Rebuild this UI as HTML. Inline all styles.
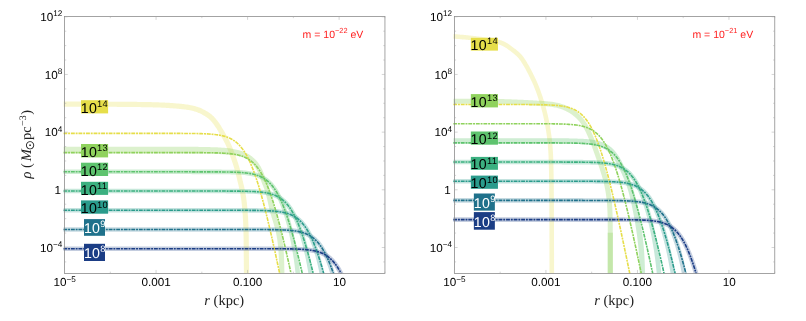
<!DOCTYPE html>
<html><head><meta charset="utf-8"><title>plot</title>
<style>
html,body{margin:0;padding:0;background:#fff;}
body{width:806px;height:321px;overflow:hidden;}
svg{display:block;will-change:transform;text-rendering:geometricPrecision;}
text{font-family:"Liberation Sans",sans-serif;}
.tl{font-size:11.7px;fill:#000;}
.ml{font-size:10.5px;fill:#ff2020;}
.bl{font-size:14.2px;letter-spacing:0.3px;}
.ax{font-family:"Liberation Serif",serif;font-size:14.5px;fill:#222;}
</style></head><body>
<svg width="806" height="321" viewBox="0 0 806 321">
<rect width="806" height="321" fill="#fff"/>
<clipPath id="c0"><rect x="63.35" y="16.45" width="321.60" height="256.90"/></clipPath>
<g clip-path="url(#c0)" fill="none">
<path d="M63.40,104.20 L64.60,104.20 L65.80,104.20 L67.00,104.20 L68.20,104.20 L69.40,104.19 L70.60,104.19 L71.80,104.19 L73.00,104.19 L74.20,104.19 L75.40,104.19 L76.60,104.19 L77.80,104.19 L79.00,104.19 L80.20,104.19 L81.40,104.19 L82.60,104.19 L83.80,104.19 L85.00,104.19 L86.20,104.19 L87.40,104.19 L88.60,104.19 L89.80,104.19 L91.00,104.19 L92.20,104.19 L93.40,104.19 L94.60,104.19 L95.80,104.20 L97.00,104.20 L98.20,104.20 L99.40,104.20 L100.60,104.21 L101.80,104.21 L103.00,104.21 L104.20,104.22 L105.40,104.22 L106.60,104.23 L107.80,104.23 L109.00,104.24 L110.20,104.24 L111.40,104.25 L112.60,104.25 L113.80,104.26 L115.00,104.27 L116.20,104.27 L117.40,104.28 L118.60,104.29 L119.80,104.30 L121.00,104.31 L122.20,104.32 L123.40,104.33 L124.60,104.34 L125.80,104.35 L127.00,104.36 L128.20,104.37 L129.40,104.38 L130.60,104.40 L131.80,104.41 L133.00,104.42 L134.20,104.44 L135.40,104.45 L136.60,104.47 L137.80,104.49 L139.00,104.50 L140.20,104.52 L141.40,104.54 L142.60,104.56 L143.80,104.58 L145.00,104.60 L146.20,104.62 L147.40,104.64 L148.60,104.67 L149.80,104.69 L151.00,104.72 L152.20,104.75 L153.40,104.78 L154.60,104.81 L155.79,104.85 L156.99,104.89 L158.19,104.93 L159.39,104.98 L160.59,105.02 L161.79,105.08 L162.99,105.13 L164.19,105.19 L165.39,105.25 L166.59,105.32 L167.78,105.39 L168.98,105.46 L170.18,105.54 L171.38,105.62 L172.57,105.71 L173.77,105.79 L174.96,105.88 L176.16,105.98 L177.35,106.08 L178.55,106.19 L179.74,106.30 L180.94,106.42 L182.13,106.55 L183.32,106.69 L184.52,106.84 L185.71,106.99 L186.91,107.16 L188.10,107.35 L189.29,107.55 L190.47,107.76 L191.65,108.00 L192.82,108.27 L193.99,108.56 L195.14,108.87 L196.29,109.22 L197.42,109.61 L198.55,110.03 L199.66,110.48 L200.76,110.97 L201.84,111.48 L202.92,112.02 L203.98,112.59 L205.03,113.18 L206.06,113.80 L207.08,114.44 L208.07,115.12 L209.04,115.83 L209.97,116.58 L210.88,117.36 L211.75,118.19 L212.59,119.05 L213.41,119.93 L214.19,120.85 L214.95,121.78 L215.68,122.74 L216.38,123.71 L217.07,124.70 L217.73,125.70 L218.38,126.71 L219.02,127.72 L219.64,128.75 L220.26,129.78 L220.87,130.81 L221.48,131.85 L222.09,132.88 L222.70,133.92 L223.30,134.96 L223.90,136.00 L224.49,137.05 L225.07,138.10 L225.64,139.15 L226.20,140.21 L226.75,141.28 L227.28,142.36 L227.80,143.44 L228.30,144.53 L228.79,145.62 L229.26,146.72 L229.73,147.83 L230.18,148.94 L230.63,150.05 L231.06,151.17 L231.49,152.30 L231.92,153.42 L232.33,154.55 L232.75,155.68 L233.16,156.81 L233.56,157.94 L233.96,159.07 L234.35,160.21 L234.74,161.34 L235.12,162.48 L235.49,163.62 L235.86,164.77 L236.21,165.91 L236.56,167.06 L236.90,168.21 L237.22,169.36 L237.54,170.52 L237.85,171.68 L238.14,172.84 L238.43,174.01 L238.72,175.17 L239.00,176.34 L239.28,177.51 L239.55,178.68 L239.83,179.84 L240.10,181.01 L240.38,182.18 L240.66,183.35 L240.94,184.51 L241.22,185.68 L241.49,186.85 L241.76,188.02 L242.02,189.19 L242.27,190.37 L242.51,191.54 L242.73,192.72 L242.95,193.90 L243.15,195.08 L243.34,196.27 L243.52,197.45 L243.69,198.64 L243.85,199.83 L244.01,201.02 L244.15,202.21 L244.29,203.41 L244.41,204.60 L244.54,205.80 L244.65,206.99 L244.76,208.19 L244.86,209.39 L244.96,210.59 L245.05,211.78 L245.14,212.98 L245.23,214.18 L245.31,215.38 L245.39,216.58 L245.46,217.77 L245.53,218.97 L245.60,220.17 L245.66,221.37 L245.72,222.57 L245.77,223.77 L245.82,224.96 L245.87,226.16 L245.92,227.36 L245.96,228.56 L245.99,229.76 L246.03,230.96 L246.06,232.16 L246.08,233.36 L246.11,234.56 L246.13,235.76 L246.15,236.96 L246.17,238.16 L246.18,239.36 L246.20,240.56 L246.21,241.76 L246.22,242.96 L246.23,244.16 L246.24,245.36 L246.25,246.56 L246.26,247.76 L246.27,248.96 L246.28,250.16 L246.29,251.36 L246.30,252.56 L246.31,253.76 L246.33,254.96 L246.34,256.16 L246.35,257.36 L246.37,258.56 L246.38,259.76 L246.40,260.96 L246.41,262.16 L246.42,263.36 L246.44,264.56 L246.45,265.76 L246.46,266.96 L246.47,268.16 L246.48,269.36 L246.49,270.56 L246.49,271.76 L246.50,272.96 L246.50,274.16 L246.50,275.36 L246.50,276.56 L246.50,277.76 L246.50,278.96 L246.50,280.00" stroke="#e6de4a" stroke-opacity="0.28" stroke-width="5.2" stroke-linejoin="round"/>
<path d="M63.40,153.35 L64.60,153.35 L65.80,153.35 L67.00,153.35 L68.20,153.35 L69.39,153.36 L70.59,153.36 L71.79,153.36 L72.99,153.36 L74.19,153.36 L75.39,153.36 L76.59,153.36 L77.79,153.36 L78.99,153.36 L80.19,153.37 L81.39,153.37 L82.59,153.37 L83.79,153.37 L84.99,153.37 L86.19,153.37 L87.39,153.37 L88.59,153.37 L89.79,153.37 L90.99,153.37 L92.19,153.37 L93.39,153.37 L94.59,153.37 L95.79,153.37 L96.99,153.37 L98.19,153.37 L99.39,153.37 L100.59,153.37 L101.79,153.37 L102.99,153.37 L104.19,153.37 L105.40,153.37 L106.60,153.37 L107.80,153.37 L109.00,153.37 L110.20,153.36 L111.40,153.36 L112.60,153.36 L113.80,153.36 L115.00,153.36 L116.20,153.36 L117.40,153.35 L118.61,153.35 L119.81,153.35 L121.01,153.35 L122.21,153.35 L123.41,153.34 L124.61,153.34 L125.81,153.34 L127.01,153.33 L128.22,153.33 L129.42,153.33 L130.62,153.32 L131.82,153.32 L133.02,153.32 L134.22,153.31 L135.42,153.31 L136.62,153.31 L137.83,153.31 L139.03,153.30 L140.23,153.30 L141.43,153.30 L142.63,153.29 L143.83,153.29 L145.03,153.29 L146.23,153.28 L147.43,153.28 L148.63,153.28 L149.83,153.28 L151.04,153.28 L152.24,153.27 L153.44,153.27 L154.64,153.27 L155.84,153.27 L157.04,153.27 L158.24,153.27 L159.44,153.27 L160.64,153.27 L161.84,153.27 L163.04,153.27 L164.24,153.27 L165.44,153.27 L166.63,153.27 L167.83,153.27 L169.03,153.28 L170.23,153.28 L171.43,153.28 L172.63,153.28 L173.83,153.29 L175.03,153.29 L176.22,153.30 L177.42,153.30 L178.62,153.31 L179.82,153.31 L181.02,153.32 L182.21,153.33 L183.41,153.33 L184.61,153.34 L185.81,153.35 L187.00,153.36 L188.20,153.37 L189.39,153.38 L190.59,153.39 L191.79,153.40 L192.98,153.42 L194.18,153.43 L195.37,153.44 L196.57,153.46 L197.76,153.47 L198.96,153.49 L200.15,153.50 L201.35,153.52 L202.54,153.54 L203.73,153.56 L204.92,153.58 L206.11,153.60 L207.30,153.63 L208.49,153.66 L209.68,153.69 L210.86,153.72 L212.05,153.76 L213.23,153.80 L214.42,153.85 L215.60,153.90 L216.79,153.96 L217.97,154.02 L219.15,154.09 L220.33,154.16 L221.52,154.24 L222.70,154.33 L223.88,154.42 L225.06,154.52 L226.24,154.63 L227.42,154.74 L228.61,154.83 L229.79,154.91 L230.98,155.01 L232.15,155.11 L233.31,155.23 L234.47,155.37 L235.61,155.53 L236.74,155.70 L237.85,155.91 L238.95,156.14 L240.03,156.40 L241.09,156.70 L242.13,157.03 L243.16,157.40 L244.16,157.81 L245.14,158.28 L246.10,158.82 L247.03,159.39 L247.93,160.01 L248.82,160.67 L249.67,161.36 L250.50,162.09 L251.30,162.85 L252.07,163.64 L252.80,164.46 L253.51,165.32 L254.19,166.20 L254.83,167.10 L255.44,168.03 L256.02,168.99 L256.56,169.96 L257.08,170.95 L257.56,171.96 L258.03,173.00 L258.47,174.06 L258.90,175.13 L259.32,176.23 L259.74,177.34 L260.15,178.46 L260.57,179.59 L261.00,180.73 L261.43,181.87 L261.88,183.01 L262.32,184.13 L262.76,185.24 L263.19,186.35 L263.62,187.45 L264.03,188.55 L264.43,189.64 L264.80,190.74 L265.16,191.83 L265.50,192.93 L265.82,194.05 L266.13,195.17 L266.43,196.30 L266.72,197.44 L266.99,198.59 L267.26,199.74 L267.53,200.90 L267.79,202.06 L268.05,203.23 L268.31,204.41 L268.57,205.58 L268.84,206.77 L269.11,207.95 L269.39,209.14 L269.68,210.32 L269.98,211.51 L270.29,212.70 L270.62,213.89 L270.95,215.07 L271.30,216.24 L271.66,217.40 L272.02,218.56 L272.38,219.71 L272.74,220.85 L273.09,221.99 L273.45,223.13 L273.79,224.26 L274.12,225.39 L274.44,226.51 L274.75,227.64 L275.05,228.78 L275.33,229.91 L275.60,231.05 L275.85,232.20 L276.10,233.34 L276.33,234.49 L276.55,235.65 L276.76,236.80 L276.95,237.96 L277.14,239.12 L277.31,240.29 L277.48,241.45 L277.63,242.62 L277.77,243.79 L277.90,244.96 L278.03,246.13 L278.14,247.31 L278.25,248.48 L278.35,249.66 L278.44,250.84 L278.52,252.02 L278.59,253.21 L278.66,254.39 L278.73,255.58 L278.78,256.76 L278.84,257.95 L278.88,259.14 L278.93,260.33 L278.96,261.52 L279.00,262.71 L279.03,263.91 L279.06,265.10 L279.08,266.29 L279.11,267.49 L279.13,268.68 L279.15,269.88 L279.17,271.08 L279.18,272.28 L279.20,273.48 L279.22,274.68 L279.24,275.88 L279.26,277.08 L279.27,278.28 L279.29,279.48 L279.30,280.04 L284.50,279.96 L284.49,279.40 L284.47,278.20 L284.46,277.00 L284.44,275.80 L284.42,274.60 L284.40,273.40 L284.38,272.20 L284.37,271.00 L284.35,269.80 L284.33,268.60 L284.31,267.39 L284.28,266.19 L284.26,264.98 L284.23,263.78 L284.20,262.57 L284.16,261.36 L284.12,260.15 L284.08,258.94 L284.03,257.74 L283.98,256.53 L283.92,255.31 L283.86,254.10 L283.78,252.89 L283.71,251.68 L283.62,250.46 L283.53,249.25 L283.43,248.04 L283.32,246.82 L283.20,245.61 L283.07,244.39 L282.94,243.18 L282.79,241.97 L282.63,240.75 L282.46,239.54 L282.28,238.33 L282.09,237.12 L281.88,235.91 L281.66,234.70 L281.43,233.49 L281.19,232.29 L280.93,231.09 L280.67,229.89 L280.38,228.69 L280.09,227.49 L279.78,226.30 L279.45,225.12 L279.12,223.94 L278.77,222.77 L278.42,221.60 L278.06,220.44 L277.70,219.29 L277.34,218.15 L276.98,217.01 L276.63,215.87 L276.28,214.74 L275.94,213.61 L275.62,212.48 L275.31,211.35 L275.01,210.22 L274.72,209.08 L274.45,207.93 L274.18,206.78 L273.91,205.62 L273.65,204.45 L273.39,203.28 L273.13,202.11 L272.87,200.93 L272.60,199.75 L272.33,198.56 L272.05,197.38 L271.76,196.19 L271.47,195.01 L271.15,193.82 L270.83,192.63 L270.48,191.45 L270.12,190.26 L269.73,189.08 L269.33,187.91 L268.91,186.75 L268.48,185.60 L268.04,184.47 L267.60,183.34 L267.16,182.22 L266.72,181.11 L266.28,180.00 L265.86,178.89 L265.45,177.78 L265.03,176.66 L264.61,175.52 L264.18,174.38 L263.74,173.23 L263.28,172.08 L262.80,170.93 L262.28,169.78 L261.73,168.63 L261.14,167.49 L260.51,166.36 L259.83,165.26 L259.12,164.17 L258.37,163.11 L257.58,162.08 L256.74,161.07 L255.87,160.10 L254.96,159.16 L254.01,158.25 L253.02,157.38 L252.00,156.56 L250.95,155.77 L249.86,155.03 L248.74,154.34 L247.60,153.70 L246.44,153.08 L245.27,152.50 L244.08,151.97 L242.87,151.48 L241.66,151.04 L240.43,150.65 L239.20,150.29 L237.96,149.96 L236.72,149.66 L235.48,149.40 L234.23,149.15 L233.00,148.93 L231.76,148.72 L230.53,148.52 L229.31,148.34 L228.09,148.18 L226.86,148.06 L225.64,147.94 L224.42,147.84 L223.20,147.74 L221.98,147.66 L220.76,147.57 L219.54,147.50 L218.33,147.43 L217.12,147.37 L215.90,147.31 L214.69,147.26 L213.48,147.21 L212.27,147.16 L211.07,147.13 L209.86,147.09 L208.66,147.06 L207.45,147.03 L206.25,147.00 L205.05,146.98 L203.84,146.96 L202.64,146.94 L201.44,146.92 L200.25,146.90 L199.05,146.89 L197.85,146.87 L196.65,146.86 L195.45,146.84 L194.25,146.83 L193.05,146.82 L191.85,146.80 L190.65,146.79 L189.45,146.78 L188.25,146.77 L187.05,146.76 L185.85,146.75 L184.65,146.74 L183.45,146.73 L182.25,146.73 L181.05,146.72 L179.85,146.71 L178.65,146.71 L177.45,146.70 L176.25,146.70 L175.05,146.69 L173.85,146.69 L172.65,146.68 L171.45,146.68 L170.25,146.68 L169.05,146.68 L167.84,146.67 L166.64,146.67 L165.44,146.67 L164.24,146.67 L163.04,146.67 L161.84,146.67 L160.64,146.67 L159.44,146.67 L158.23,146.67 L157.03,146.67 L155.83,146.67 L154.63,146.67 L153.43,146.67 L152.23,146.67 L151.02,146.68 L149.82,146.68 L148.62,146.68 L147.42,146.68 L146.22,146.68 L145.02,146.69 L143.82,146.69 L142.61,146.69 L141.41,146.70 L140.21,146.70 L139.01,146.70 L137.81,146.71 L136.61,146.71 L135.41,146.71 L134.20,146.72 L133.00,146.72 L131.80,146.72 L130.60,146.72 L129.40,146.73 L128.20,146.73 L127.00,146.73 L125.80,146.74 L124.60,146.74 L123.40,146.74 L122.19,146.75 L120.99,146.75 L119.79,146.75 L118.59,146.75 L117.39,146.75 L116.19,146.76 L114.99,146.76 L113.79,146.76 L112.59,146.76 L111.39,146.76 L110.19,146.76 L108.99,146.77 L107.79,146.77 L106.59,146.77 L105.39,146.77 L104.19,146.77 L102.99,146.77 L101.79,146.77 L100.59,146.77 L99.39,146.77 L98.19,146.77 L96.99,146.77 L95.79,146.77 L94.59,146.77 L93.39,146.77 L92.19,146.77 L90.99,146.77 L89.79,146.77 L88.59,146.77 L87.39,146.77 L86.19,146.77 L85.00,146.77 L83.80,146.77 L82.60,146.77 L81.40,146.77 L80.20,146.77 L79.00,146.76 L77.80,146.76 L76.60,146.76 L75.40,146.76 L74.20,146.76 L73.00,146.76 L71.80,146.76 L70.60,146.76 L69.40,146.76 L68.20,146.75 L67.00,146.75 L65.80,146.75 L64.60,146.75 L63.40,146.75Z" fill="#8fd25d" fill-opacity="0.31" stroke="none"/>
<path d="M63.35,171.82 L64.85,171.82 L66.35,171.82 L67.85,171.82 L69.35,171.82 L70.85,171.82 L72.35,171.82 L73.85,171.82 L75.35,171.82 L76.85,171.82 L78.35,171.82 L79.85,171.82 L81.35,171.82 L82.85,171.82 L84.35,171.82 L85.85,171.82 L87.35,171.82 L88.85,171.82 L90.35,171.82 L91.85,171.82 L93.35,171.82 L94.85,171.82 L96.35,171.82 L97.85,171.82 L99.35,171.82 L100.85,171.82 L102.35,171.82 L103.85,171.82 L105.35,171.82 L106.85,171.82 L108.35,171.82 L109.85,171.82 L111.35,171.82 L112.85,171.82 L114.35,171.82 L115.85,171.82 L117.35,171.82 L118.85,171.82 L120.35,171.82 L121.85,171.82 L123.35,171.82 L124.85,171.82 L126.35,171.82 L127.85,171.82 L129.35,171.82 L130.85,171.82 L132.35,171.82 L133.85,171.82 L135.35,171.82 L136.85,171.82 L138.35,171.82 L139.85,171.82 L141.35,171.82 L142.85,171.82 L144.35,171.82 L145.85,171.82 L147.35,171.82 L148.85,171.82 L150.35,171.82 L151.85,171.82 L153.35,171.82 L154.85,171.82 L156.35,171.82 L157.85,171.82 L159.35,171.82 L160.85,171.82 L162.35,171.82 L163.85,171.82 L165.35,171.82 L166.85,171.82 L168.35,171.82 L169.85,171.82 L171.35,171.82 L172.85,171.82 L174.35,171.82 L175.85,171.82 L177.35,171.82 L178.85,171.82 L180.35,171.82 L181.85,171.82 L183.35,171.82 L184.85,171.82 L186.35,171.82 L187.85,171.82 L189.35,171.82 L190.85,171.82 L192.35,171.83 L193.85,171.83 L195.35,171.83 L196.85,171.83 L198.35,171.83 L199.85,171.83 L201.35,171.83 L202.85,171.83 L204.35,171.84 L205.85,171.84 L207.35,171.84 L208.85,171.85 L210.35,171.85 L211.85,171.86 L213.35,171.86 L214.85,171.87 L216.35,171.88 L217.85,171.89 L219.35,171.90 L220.85,171.91 L222.35,171.93 L223.85,171.94 L225.35,171.96 L226.85,171.99 L228.35,172.01 L229.85,172.05 L231.35,172.08 L232.85,172.13 L234.35,172.17 L235.85,172.23 L237.35,172.30 L238.85,172.38 L240.35,172.47 L241.85,172.57 L243.35,172.69 L244.85,172.83 L246.35,173.00 L247.85,173.19 L249.35,173.41 L250.85,173.66 L252.35,173.95 L253.85,174.29 L255.35,174.68 L256.85,175.14 L258.35,175.66 L259.85,176.25 L261.35,176.94 L262.85,177.73 L264.35,178.63 L265.85,179.65 L267.35,180.82 L268.85,182.15 L270.34,183.65 L271.84,185.33 L273.33,187.23 L274.83,189.34 L276.32,191.70 L277.80,194.30 L279.28,197.17 L280.75,200.31 L282.21,203.73 L283.66,207.44 L285.09,211.43 L286.49,215.70 L287.87,220.25 L289.22,225.07 L290.52,230.15 L291.77,235.47 L292.96,241.02 L294.08,246.79 L295.12,252.76 L296.07,258.90 L296.93,265.22 L297.66,271.68 L298.28,278.28 L298.76,284.99" stroke="#5ec36e" stroke-opacity="0.30" stroke-width="4.6" stroke-linejoin="round"/>
<path d="M63.35,191.04 L64.85,191.04 L66.35,191.04 L67.85,191.04 L69.35,191.04 L70.85,191.04 L72.35,191.04 L73.85,191.04 L75.35,191.04 L76.85,191.04 L78.35,191.04 L79.85,191.04 L81.35,191.04 L82.85,191.04 L84.35,191.04 L85.85,191.04 L87.35,191.04 L88.85,191.04 L90.35,191.04 L91.85,191.04 L93.35,191.04 L94.85,191.04 L96.35,191.04 L97.85,191.04 L99.35,191.04 L100.85,191.04 L102.35,191.04 L103.85,191.04 L105.35,191.04 L106.85,191.04 L108.35,191.04 L109.85,191.04 L111.35,191.04 L112.85,191.04 L114.35,191.04 L115.85,191.04 L117.35,191.04 L118.85,191.04 L120.35,191.04 L121.85,191.04 L123.35,191.04 L124.85,191.04 L126.35,191.04 L127.85,191.04 L129.35,191.04 L130.85,191.04 L132.35,191.04 L133.85,191.04 L135.35,191.04 L136.85,191.04 L138.35,191.04 L139.85,191.04 L141.35,191.04 L142.85,191.04 L144.35,191.04 L145.85,191.04 L147.35,191.04 L148.85,191.04 L150.35,191.04 L151.85,191.04 L153.35,191.04 L154.85,191.04 L156.35,191.04 L157.85,191.04 L159.35,191.04 L160.85,191.04 L162.35,191.04 L163.85,191.04 L165.35,191.04 L166.85,191.04 L168.35,191.04 L169.85,191.04 L171.35,191.04 L172.85,191.04 L174.35,191.04 L175.85,191.04 L177.35,191.04 L178.85,191.04 L180.35,191.04 L181.85,191.04 L183.35,191.04 L184.85,191.04 L186.35,191.04 L187.85,191.04 L189.35,191.04 L190.85,191.04 L192.35,191.04 L193.85,191.04 L195.35,191.04 L196.85,191.04 L198.35,191.04 L199.85,191.04 L201.35,191.04 L202.85,191.04 L204.35,191.04 L205.85,191.04 L207.35,191.04 L208.85,191.05 L210.35,191.05 L211.85,191.05 L213.35,191.05 L214.85,191.05 L216.35,191.05 L217.85,191.05 L219.35,191.06 L220.85,191.06 L222.35,191.06 L223.85,191.07 L225.35,191.07 L226.85,191.08 L228.35,191.08 L229.85,191.09 L231.35,191.10 L232.85,191.10 L234.35,191.11 L235.85,191.13 L237.35,191.14 L238.85,191.16 L240.35,191.18 L241.85,191.20 L243.35,191.22 L244.85,191.25 L246.35,191.29 L247.85,191.33 L249.35,191.38 L250.85,191.43 L252.35,191.50 L253.85,191.57 L255.35,191.66 L256.85,191.76 L258.35,191.87 L259.85,192.01 L261.35,192.16 L262.85,192.34 L264.35,192.55 L265.85,192.79 L267.35,193.07 L268.85,193.39 L270.35,193.77 L271.85,194.20 L273.35,194.69 L274.85,195.27 L276.35,195.92 L277.85,196.67 L279.35,197.53 L280.85,198.52 L282.35,199.64 L283.85,200.91 L285.34,202.35 L286.84,203.97 L288.34,205.79 L289.83,207.83 L291.32,210.10 L292.80,212.62 L294.29,215.40 L295.76,218.45 L297.22,221.78 L298.67,225.39 L300.10,229.29 L301.51,233.47 L302.89,237.92 L304.23,242.65 L305.54,247.65 L306.79,252.89 L307.98,258.37 L309.10,264.06 L310.15,269.97 L311.10,276.05 L311.94,282.31" stroke="#3bb080" stroke-opacity="0.29" stroke-width="4.6" stroke-linejoin="round"/>
<path d="M63.35,210.26 L64.85,210.26 L66.35,210.26 L67.85,210.26 L69.35,210.26 L70.85,210.26 L72.35,210.26 L73.85,210.26 L75.35,210.26 L76.85,210.26 L78.35,210.26 L79.85,210.26 L81.35,210.26 L82.85,210.26 L84.35,210.26 L85.85,210.26 L87.35,210.26 L88.85,210.26 L90.35,210.26 L91.85,210.26 L93.35,210.26 L94.85,210.26 L96.35,210.26 L97.85,210.26 L99.35,210.26 L100.85,210.26 L102.35,210.26 L103.85,210.26 L105.35,210.26 L106.85,210.26 L108.35,210.26 L109.85,210.26 L111.35,210.26 L112.85,210.26 L114.35,210.26 L115.85,210.26 L117.35,210.26 L118.85,210.26 L120.35,210.26 L121.85,210.26 L123.35,210.26 L124.85,210.26 L126.35,210.26 L127.85,210.26 L129.35,210.26 L130.85,210.26 L132.35,210.26 L133.85,210.26 L135.35,210.26 L136.85,210.26 L138.35,210.26 L139.85,210.26 L141.35,210.26 L142.85,210.26 L144.35,210.26 L145.85,210.26 L147.35,210.26 L148.85,210.26 L150.35,210.26 L151.85,210.26 L153.35,210.26 L154.85,210.26 L156.35,210.26 L157.85,210.26 L159.35,210.26 L160.85,210.26 L162.35,210.26 L163.85,210.26 L165.35,210.26 L166.85,210.26 L168.35,210.26 L169.85,210.26 L171.35,210.26 L172.85,210.26 L174.35,210.26 L175.85,210.26 L177.35,210.26 L178.85,210.26 L180.35,210.26 L181.85,210.26 L183.35,210.26 L184.85,210.26 L186.35,210.26 L187.85,210.26 L189.35,210.26 L190.85,210.26 L192.35,210.26 L193.85,210.26 L195.35,210.26 L196.85,210.26 L198.35,210.26 L199.85,210.26 L201.35,210.26 L202.85,210.26 L204.35,210.26 L205.85,210.26 L207.35,210.26 L208.85,210.26 L210.35,210.26 L211.85,210.26 L213.35,210.26 L214.85,210.26 L216.35,210.26 L217.85,210.26 L219.35,210.26 L220.85,210.26 L222.35,210.26 L223.85,210.27 L225.35,210.27 L226.85,210.27 L228.35,210.27 L229.85,210.27 L231.35,210.27 L232.85,210.27 L234.35,210.28 L235.85,210.28 L237.35,210.28 L238.85,210.28 L240.35,210.29 L241.85,210.29 L243.35,210.30 L244.85,210.31 L246.35,210.31 L247.85,210.32 L249.35,210.33 L250.85,210.34 L252.35,210.36 L253.85,210.37 L255.35,210.39 L256.85,210.41 L258.35,210.44 L259.85,210.46 L261.35,210.50 L262.85,210.54 L264.35,210.58 L265.85,210.63 L267.35,210.69 L268.85,210.76 L270.35,210.85 L271.85,210.94 L273.35,211.05 L274.85,211.18 L276.35,211.33 L277.85,211.50 L279.35,211.70 L280.85,211.93 L282.35,212.19 L283.85,212.50 L285.35,212.86 L286.85,213.27 L288.35,213.74 L289.85,214.29 L291.35,214.91 L292.85,215.63 L294.35,216.45 L295.85,217.40 L297.35,218.47 L298.84,219.69 L300.34,221.07 L301.84,222.63 L303.33,224.38 L304.82,226.35 L306.30,228.54 L307.78,230.98 L309.25,233.67 L310.71,236.63 L312.15,239.86 L313.58,243.37 L314.97,247.18 L316.33,251.26 L317.64,255.63 L318.90,260.27 L320.10,265.17 L321.21,270.33 L322.23,275.74 L323.13,281.36" stroke="#2a9b8c" stroke-opacity="0.28" stroke-width="4.6" stroke-linejoin="round"/>
<path d="M63.35,229.48 L64.85,229.48 L66.35,229.48 L67.85,229.48 L69.35,229.48 L70.85,229.48 L72.35,229.48 L73.85,229.48 L75.35,229.48 L76.85,229.48 L78.35,229.48 L79.85,229.48 L81.35,229.48 L82.85,229.48 L84.35,229.48 L85.85,229.48 L87.35,229.48 L88.85,229.48 L90.35,229.48 L91.85,229.48 L93.35,229.48 L94.85,229.48 L96.35,229.48 L97.85,229.48 L99.35,229.48 L100.85,229.48 L102.35,229.48 L103.85,229.48 L105.35,229.48 L106.85,229.48 L108.35,229.48 L109.85,229.48 L111.35,229.48 L112.85,229.48 L114.35,229.48 L115.85,229.48 L117.35,229.48 L118.85,229.48 L120.35,229.48 L121.85,229.48 L123.35,229.48 L124.85,229.48 L126.35,229.48 L127.85,229.48 L129.35,229.48 L130.85,229.48 L132.35,229.48 L133.85,229.48 L135.35,229.48 L136.85,229.48 L138.35,229.48 L139.85,229.48 L141.35,229.48 L142.85,229.48 L144.35,229.48 L145.85,229.48 L147.35,229.48 L148.85,229.48 L150.35,229.48 L151.85,229.48 L153.35,229.48 L154.85,229.48 L156.35,229.48 L157.85,229.48 L159.35,229.48 L160.85,229.48 L162.35,229.48 L163.85,229.48 L165.35,229.48 L166.85,229.48 L168.35,229.48 L169.85,229.48 L171.35,229.48 L172.85,229.48 L174.35,229.48 L175.85,229.48 L177.35,229.48 L178.85,229.48 L180.35,229.48 L181.85,229.48 L183.35,229.48 L184.85,229.48 L186.35,229.48 L187.85,229.48 L189.35,229.48 L190.85,229.48 L192.35,229.48 L193.85,229.48 L195.35,229.48 L196.85,229.48 L198.35,229.48 L199.85,229.48 L201.35,229.48 L202.85,229.48 L204.35,229.48 L205.85,229.48 L207.35,229.48 L208.85,229.48 L210.35,229.48 L211.85,229.48 L213.35,229.48 L214.85,229.48 L216.35,229.48 L217.85,229.48 L219.35,229.48 L220.85,229.48 L222.35,229.48 L223.85,229.48 L225.35,229.48 L226.85,229.48 L228.35,229.48 L229.85,229.48 L231.35,229.48 L232.85,229.48 L234.35,229.48 L235.85,229.48 L237.35,229.48 L238.85,229.49 L240.35,229.49 L241.85,229.49 L243.35,229.49 L244.85,229.49 L246.35,229.49 L247.85,229.49 L249.35,229.49 L250.85,229.50 L252.35,229.50 L253.85,229.50 L255.35,229.51 L256.85,229.51 L258.35,229.52 L259.85,229.52 L261.35,229.53 L262.85,229.54 L264.35,229.55 L265.85,229.56 L267.35,229.57 L268.85,229.59 L270.35,229.60 L271.85,229.62 L273.35,229.65 L274.85,229.67 L276.35,229.71 L277.85,229.74 L279.35,229.79 L280.85,229.83 L282.35,229.89 L283.85,229.96 L285.35,230.04 L286.85,230.13 L288.35,230.23 L289.85,230.35 L291.35,230.49 L292.85,230.66 L294.35,230.85 L295.85,231.07 L297.35,231.32 L298.85,231.61 L300.35,231.95 L301.85,232.34 L303.35,232.80 L304.85,233.32 L306.35,233.91 L307.85,234.60 L309.35,235.39 L310.85,236.29 L312.35,237.31 L313.84,238.48 L315.34,239.81 L316.83,241.31 L318.33,242.99 L319.82,244.89 L321.30,247.00 L322.78,249.36 L324.24,251.96 L325.70,254.83 L327.13,257.97 L328.54,261.39 L329.92,265.10 L331.26,269.09 L332.55,273.36 L333.77,277.91 L334.92,282.73" stroke="#1f718b" stroke-opacity="0.26" stroke-width="4.6" stroke-linejoin="round"/>
<path d="M63.35,248.70 L64.85,248.70 L66.35,248.70 L67.85,248.70 L69.35,248.70 L70.85,248.70 L72.35,248.70 L73.85,248.70 L75.35,248.70 L76.85,248.70 L78.35,248.70 L79.85,248.70 L81.35,248.70 L82.85,248.70 L84.35,248.70 L85.85,248.70 L87.35,248.70 L88.85,248.70 L90.35,248.70 L91.85,248.70 L93.35,248.70 L94.85,248.70 L96.35,248.70 L97.85,248.70 L99.35,248.70 L100.85,248.70 L102.35,248.70 L103.85,248.70 L105.35,248.70 L106.85,248.70 L108.35,248.70 L109.85,248.70 L111.35,248.70 L112.85,248.70 L114.35,248.70 L115.85,248.70 L117.35,248.70 L118.85,248.70 L120.35,248.70 L121.85,248.70 L123.35,248.70 L124.85,248.70 L126.35,248.70 L127.85,248.70 L129.35,248.70 L130.85,248.70 L132.35,248.70 L133.85,248.70 L135.35,248.70 L136.85,248.70 L138.35,248.70 L139.85,248.70 L141.35,248.70 L142.85,248.70 L144.35,248.70 L145.85,248.70 L147.35,248.70 L148.85,248.70 L150.35,248.70 L151.85,248.70 L153.35,248.70 L154.85,248.70 L156.35,248.70 L157.85,248.70 L159.35,248.70 L160.85,248.70 L162.35,248.70 L163.85,248.70 L165.35,248.70 L166.85,248.70 L168.35,248.70 L169.85,248.70 L171.35,248.70 L172.85,248.70 L174.35,248.70 L175.85,248.70 L177.35,248.70 L178.85,248.70 L180.35,248.70 L181.85,248.70 L183.35,248.70 L184.85,248.70 L186.35,248.70 L187.85,248.70 L189.35,248.70 L190.85,248.70 L192.35,248.70 L193.85,248.70 L195.35,248.70 L196.85,248.70 L198.35,248.70 L199.85,248.70 L201.35,248.70 L202.85,248.70 L204.35,248.70 L205.85,248.70 L207.35,248.70 L208.85,248.70 L210.35,248.70 L211.85,248.70 L213.35,248.70 L214.85,248.70 L216.35,248.70 L217.85,248.70 L219.35,248.70 L220.85,248.70 L222.35,248.70 L223.85,248.70 L225.35,248.70 L226.85,248.70 L228.35,248.70 L229.85,248.70 L231.35,248.70 L232.85,248.70 L234.35,248.70 L235.85,248.70 L237.35,248.70 L238.85,248.70 L240.35,248.70 L241.85,248.70 L243.35,248.70 L244.85,248.70 L246.35,248.70 L247.85,248.70 L249.35,248.70 L250.85,248.70 L252.35,248.70 L253.85,248.70 L255.35,248.71 L256.85,248.71 L258.35,248.71 L259.85,248.71 L261.35,248.71 L262.85,248.71 L264.35,248.71 L265.85,248.72 L267.35,248.72 L268.85,248.72 L270.35,248.73 L271.85,248.73 L273.35,248.74 L274.85,248.74 L276.35,248.75 L277.85,248.76 L279.35,248.76 L280.85,248.77 L282.35,248.79 L283.85,248.80 L285.35,248.82 L286.85,248.84 L288.35,248.86 L289.85,248.88 L291.35,248.91 L292.85,248.95 L294.35,248.99 L295.85,249.04 L297.35,249.09 L298.85,249.16 L300.35,249.23 L301.85,249.32 L303.35,249.42 L304.85,249.53 L306.35,249.67 L307.85,249.82 L309.35,250.00 L310.85,250.21 L312.35,250.45 L313.85,250.73 L315.35,251.05 L316.85,251.43 L318.35,251.86 L319.85,252.35 L321.35,252.93 L322.85,253.58 L324.35,254.33 L325.85,255.19 L327.35,256.18 L328.85,257.30 L330.35,258.57 L331.85,260.01 L333.35,261.63 L334.85,263.45 L336.35,265.49 L337.85,267.76 L339.35,270.28 L340.85,273.06 L342.35,276.11 L343.85,279.44 L345.35,283.05" stroke="#1b3d85" stroke-opacity="0.26" stroke-width="4.6" stroke-linejoin="round"/>
<path d="M63.35,133.38 L64.85,133.38 L66.35,133.38 L67.85,133.38 L69.35,133.38 L70.85,133.38 L72.35,133.38 L73.85,133.38 L75.35,133.38 L76.85,133.38 L78.35,133.38 L79.85,133.38 L81.35,133.38 L82.85,133.38 L84.35,133.38 L85.85,133.38 L87.35,133.38 L88.85,133.38 L90.35,133.38 L91.85,133.38 L93.35,133.38 L94.85,133.38 L96.35,133.38 L97.85,133.38 L99.35,133.38 L100.85,133.38 L102.35,133.38 L103.85,133.38 L105.35,133.38 L106.85,133.38 L108.35,133.38 L109.85,133.38 L111.35,133.38 L112.85,133.38 L114.35,133.38 L115.85,133.38 L117.35,133.38 L118.85,133.38 L120.35,133.38 L121.85,133.38 L123.35,133.38 L124.85,133.38 L126.35,133.38 L127.85,133.38 L129.35,133.38 L130.85,133.38 L132.35,133.38 L133.85,133.38 L135.35,133.38 L136.85,133.38 L138.35,133.38 L139.85,133.38 L141.35,133.38 L142.85,133.38 L144.35,133.38 L145.85,133.38 L147.35,133.38 L148.85,133.38 L150.35,133.38 L151.85,133.38 L153.35,133.38 L154.85,133.38 L156.35,133.38 L157.85,133.38 L159.35,133.38 L160.85,133.38 L162.35,133.39 L163.85,133.39 L165.35,133.39 L166.85,133.39 L168.35,133.39 L169.85,133.39 L171.35,133.39 L172.85,133.40 L174.35,133.40 L175.85,133.40 L177.35,133.41 L178.85,133.41 L180.35,133.42 L181.85,133.42 L183.35,133.43 L184.85,133.44 L186.35,133.44 L187.85,133.45 L189.35,133.47 L190.85,133.48 L192.35,133.50 L193.85,133.52 L195.35,133.54 L196.85,133.56 L198.35,133.59 L199.85,133.63 L201.35,133.67 L202.85,133.72 L204.35,133.77 L205.85,133.84 L207.35,133.91 L208.85,134.00 L210.35,134.10 L211.85,134.21 L213.35,134.35 L214.85,134.50 L216.35,134.68 L217.85,134.89 L219.35,135.13 L220.85,135.41 L222.35,135.73 L223.85,136.11 L225.35,136.54 L226.85,137.03 L228.35,137.61 L229.85,138.26 L231.35,139.01 L232.85,139.87 L234.35,140.86 L235.85,141.98 L237.35,143.25 L238.85,144.69 L240.35,146.31 L241.85,148.13 L243.35,150.17 L244.85,152.44 L246.35,154.96 L247.85,157.74 L249.35,160.79 L250.85,164.12 L252.35,167.73 L253.85,171.63 L255.35,175.81 L256.85,180.26 L258.35,184.99 L259.85,189.99 L261.35,195.23 L262.85,200.71 L264.35,206.40 L265.85,212.31 L267.35,218.39 L268.85,224.65 L270.35,231.07 L271.85,237.62 L273.35,244.30 L274.85,251.09 L276.35,257.98 L277.85,264.96 L279.35,272.01 L280.85,279.13 L282.35,286.31" stroke="#e6de4a" stroke-width="1.6" stroke-dasharray="3.9 0.85 1.95 0.85"/>
<path d="M63.35,152.60 L64.85,152.60 L66.35,152.60 L67.85,152.60 L69.35,152.60 L70.85,152.60 L72.35,152.60 L73.85,152.60 L75.35,152.60 L76.85,152.60 L78.35,152.60 L79.85,152.60 L81.35,152.60 L82.85,152.60 L84.35,152.60 L85.85,152.60 L87.35,152.60 L88.85,152.60 L90.35,152.60 L91.85,152.60 L93.35,152.60 L94.85,152.60 L96.35,152.60 L97.85,152.60 L99.35,152.60 L100.85,152.60 L102.35,152.60 L103.85,152.60 L105.35,152.60 L106.85,152.60 L108.35,152.60 L109.85,152.60 L111.35,152.60 L112.85,152.60 L114.35,152.60 L115.85,152.60 L117.35,152.60 L118.85,152.60 L120.35,152.60 L121.85,152.60 L123.35,152.60 L124.85,152.60 L126.35,152.60 L127.85,152.60 L129.35,152.60 L130.85,152.60 L132.35,152.60 L133.85,152.60 L135.35,152.60 L136.85,152.60 L138.35,152.60 L139.85,152.60 L141.35,152.60 L142.85,152.60 L144.35,152.60 L145.85,152.60 L147.35,152.60 L148.85,152.60 L150.35,152.60 L151.85,152.60 L153.35,152.60 L154.85,152.60 L156.35,152.60 L157.85,152.60 L159.35,152.60 L160.85,152.60 L162.35,152.60 L163.85,152.60 L165.35,152.60 L166.85,152.60 L168.35,152.60 L169.85,152.60 L171.35,152.60 L172.85,152.60 L174.35,152.60 L175.85,152.60 L177.35,152.61 L178.85,152.61 L180.35,152.61 L181.85,152.61 L183.35,152.61 L184.85,152.61 L186.35,152.61 L187.85,152.62 L189.35,152.62 L190.85,152.62 L192.35,152.62 L193.85,152.63 L195.35,152.63 L196.85,152.64 L198.35,152.65 L199.85,152.65 L201.35,152.66 L202.85,152.67 L204.35,152.68 L205.85,152.70 L207.35,152.71 L208.85,152.73 L210.35,152.75 L211.85,152.78 L213.35,152.80 L214.85,152.84 L216.35,152.88 L217.85,152.92 L219.35,152.97 L220.85,153.03 L222.35,153.10 L223.85,153.19 L225.35,153.28 L226.85,153.39 L228.35,153.52 L229.85,153.67 L231.35,153.84 L232.85,154.04 L234.35,154.27 L235.85,154.53 L237.35,154.84 L238.85,155.20 L240.35,155.61 L241.85,156.08 L243.35,156.63 L244.85,157.25 L246.35,157.97 L247.85,158.79 L249.35,159.74 L250.85,160.81 L252.35,162.03 L253.85,163.41 L255.35,164.97 L256.85,166.72 L258.35,168.69 L259.85,170.88 L261.35,173.32 L262.85,176.01 L264.35,178.97 L265.85,182.20 L267.35,185.71 L268.85,189.52 L270.35,193.60 L271.85,197.97 L273.35,202.61 L274.85,207.51 L276.35,212.67 L277.85,218.08 L279.35,223.70 L280.85,229.54 L282.35,235.57 L283.85,241.77 L285.35,248.13 L286.85,254.64 L288.35,261.28 L289.85,268.04 L291.35,274.89 L292.85,281.84" stroke="#8fd25d" stroke-width="1.6" stroke-dasharray="3.9 0.85 1.95 0.85"/>
<path d="M63.35,171.82 L64.85,171.82 L66.35,171.82 L67.85,171.82 L69.35,171.82 L70.85,171.82 L72.35,171.82 L73.85,171.82 L75.35,171.82 L76.85,171.82 L78.35,171.82 L79.85,171.82 L81.35,171.82 L82.85,171.82 L84.35,171.82 L85.85,171.82 L87.35,171.82 L88.85,171.82 L90.35,171.82 L91.85,171.82 L93.35,171.82 L94.85,171.82 L96.35,171.82 L97.85,171.82 L99.35,171.82 L100.85,171.82 L102.35,171.82 L103.85,171.82 L105.35,171.82 L106.85,171.82 L108.35,171.82 L109.85,171.82 L111.35,171.82 L112.85,171.82 L114.35,171.82 L115.85,171.82 L117.35,171.82 L118.85,171.82 L120.35,171.82 L121.85,171.82 L123.35,171.82 L124.85,171.82 L126.35,171.82 L127.85,171.82 L129.35,171.82 L130.85,171.82 L132.35,171.82 L133.85,171.82 L135.35,171.82 L136.85,171.82 L138.35,171.82 L139.85,171.82 L141.35,171.82 L142.85,171.82 L144.35,171.82 L145.85,171.82 L147.35,171.82 L148.85,171.82 L150.35,171.82 L151.85,171.82 L153.35,171.82 L154.85,171.82 L156.35,171.82 L157.85,171.82 L159.35,171.82 L160.85,171.82 L162.35,171.82 L163.85,171.82 L165.35,171.82 L166.85,171.82 L168.35,171.82 L169.85,171.82 L171.35,171.82 L172.85,171.82 L174.35,171.82 L175.85,171.82 L177.35,171.82 L178.85,171.82 L180.35,171.82 L181.85,171.82 L183.35,171.82 L184.85,171.82 L186.35,171.82 L187.85,171.82 L189.35,171.82 L190.85,171.82 L192.35,171.83 L193.85,171.83 L195.35,171.83 L196.85,171.83 L198.35,171.83 L199.85,171.83 L201.35,171.83 L202.85,171.83 L204.35,171.84 L205.85,171.84 L207.35,171.84 L208.85,171.85 L210.35,171.85 L211.85,171.86 L213.35,171.86 L214.85,171.87 L216.35,171.88 L217.85,171.89 L219.35,171.90 L220.85,171.91 L222.35,171.93 L223.85,171.94 L225.35,171.96 L226.85,171.99 L228.35,172.01 L229.85,172.05 L231.35,172.08 L232.85,172.13 L234.35,172.17 L235.85,172.23 L237.35,172.30 L238.85,172.38 L240.35,172.47 L241.85,172.57 L243.35,172.69 L244.85,172.83 L246.35,173.00 L247.85,173.19 L249.35,173.41 L250.85,173.66 L252.35,173.95 L253.85,174.29 L255.35,174.68 L256.85,175.14 L258.35,175.66 L259.85,176.25 L261.35,176.94 L262.85,177.73 L264.35,178.63 L265.85,179.65 L267.35,180.82 L268.85,182.15 L270.35,183.65 L271.85,185.33 L273.35,187.23 L274.85,189.34 L276.35,191.70 L277.85,194.30 L279.35,197.17 L280.85,200.31 L282.35,203.73 L283.85,207.44 L285.35,211.43 L286.85,215.70 L288.35,220.25 L289.85,225.07 L291.35,230.15 L292.85,235.47 L294.35,241.02 L295.85,246.79 L297.35,252.76 L298.85,258.90 L300.35,265.22 L301.85,271.68 L303.35,278.28 L304.85,284.99" stroke="#5ec36e" stroke-width="1.6" stroke-dasharray="3.9 0.85 1.95 0.85"/>
<path d="M63.35,191.04 L64.85,191.04 L66.35,191.04 L67.85,191.04 L69.35,191.04 L70.85,191.04 L72.35,191.04 L73.85,191.04 L75.35,191.04 L76.85,191.04 L78.35,191.04 L79.85,191.04 L81.35,191.04 L82.85,191.04 L84.35,191.04 L85.85,191.04 L87.35,191.04 L88.85,191.04 L90.35,191.04 L91.85,191.04 L93.35,191.04 L94.85,191.04 L96.35,191.04 L97.85,191.04 L99.35,191.04 L100.85,191.04 L102.35,191.04 L103.85,191.04 L105.35,191.04 L106.85,191.04 L108.35,191.04 L109.85,191.04 L111.35,191.04 L112.85,191.04 L114.35,191.04 L115.85,191.04 L117.35,191.04 L118.85,191.04 L120.35,191.04 L121.85,191.04 L123.35,191.04 L124.85,191.04 L126.35,191.04 L127.85,191.04 L129.35,191.04 L130.85,191.04 L132.35,191.04 L133.85,191.04 L135.35,191.04 L136.85,191.04 L138.35,191.04 L139.85,191.04 L141.35,191.04 L142.85,191.04 L144.35,191.04 L145.85,191.04 L147.35,191.04 L148.85,191.04 L150.35,191.04 L151.85,191.04 L153.35,191.04 L154.85,191.04 L156.35,191.04 L157.85,191.04 L159.35,191.04 L160.85,191.04 L162.35,191.04 L163.85,191.04 L165.35,191.04 L166.85,191.04 L168.35,191.04 L169.85,191.04 L171.35,191.04 L172.85,191.04 L174.35,191.04 L175.85,191.04 L177.35,191.04 L178.85,191.04 L180.35,191.04 L181.85,191.04 L183.35,191.04 L184.85,191.04 L186.35,191.04 L187.85,191.04 L189.35,191.04 L190.85,191.04 L192.35,191.04 L193.85,191.04 L195.35,191.04 L196.85,191.04 L198.35,191.04 L199.85,191.04 L201.35,191.04 L202.85,191.04 L204.35,191.04 L205.85,191.04 L207.35,191.04 L208.85,191.05 L210.35,191.05 L211.85,191.05 L213.35,191.05 L214.85,191.05 L216.35,191.05 L217.85,191.05 L219.35,191.06 L220.85,191.06 L222.35,191.06 L223.85,191.07 L225.35,191.07 L226.85,191.08 L228.35,191.08 L229.85,191.09 L231.35,191.10 L232.85,191.10 L234.35,191.11 L235.85,191.13 L237.35,191.14 L238.85,191.16 L240.35,191.18 L241.85,191.20 L243.35,191.22 L244.85,191.25 L246.35,191.29 L247.85,191.33 L249.35,191.38 L250.85,191.43 L252.35,191.50 L253.85,191.57 L255.35,191.66 L256.85,191.76 L258.35,191.87 L259.85,192.01 L261.35,192.16 L262.85,192.34 L264.35,192.55 L265.85,192.79 L267.35,193.07 L268.85,193.39 L270.35,193.77 L271.85,194.20 L273.35,194.69 L274.85,195.27 L276.35,195.92 L277.85,196.67 L279.35,197.53 L280.85,198.52 L282.35,199.64 L283.85,200.91 L285.35,202.35 L286.85,203.97 L288.35,205.79 L289.85,207.83 L291.35,210.10 L292.85,212.62 L294.35,215.40 L295.85,218.45 L297.35,221.78 L298.85,225.39 L300.35,229.29 L301.85,233.47 L303.35,237.92 L304.85,242.65 L306.35,247.65 L307.85,252.89 L309.35,258.37 L310.85,264.06 L312.35,269.97 L313.85,276.05 L315.35,282.31" stroke="#3bb080" stroke-width="1.6" stroke-dasharray="3.9 0.85 1.95 0.85"/>
<path d="M63.35,210.26 L64.85,210.26 L66.35,210.26 L67.85,210.26 L69.35,210.26 L70.85,210.26 L72.35,210.26 L73.85,210.26 L75.35,210.26 L76.85,210.26 L78.35,210.26 L79.85,210.26 L81.35,210.26 L82.85,210.26 L84.35,210.26 L85.85,210.26 L87.35,210.26 L88.85,210.26 L90.35,210.26 L91.85,210.26 L93.35,210.26 L94.85,210.26 L96.35,210.26 L97.85,210.26 L99.35,210.26 L100.85,210.26 L102.35,210.26 L103.85,210.26 L105.35,210.26 L106.85,210.26 L108.35,210.26 L109.85,210.26 L111.35,210.26 L112.85,210.26 L114.35,210.26 L115.85,210.26 L117.35,210.26 L118.85,210.26 L120.35,210.26 L121.85,210.26 L123.35,210.26 L124.85,210.26 L126.35,210.26 L127.85,210.26 L129.35,210.26 L130.85,210.26 L132.35,210.26 L133.85,210.26 L135.35,210.26 L136.85,210.26 L138.35,210.26 L139.85,210.26 L141.35,210.26 L142.85,210.26 L144.35,210.26 L145.85,210.26 L147.35,210.26 L148.85,210.26 L150.35,210.26 L151.85,210.26 L153.35,210.26 L154.85,210.26 L156.35,210.26 L157.85,210.26 L159.35,210.26 L160.85,210.26 L162.35,210.26 L163.85,210.26 L165.35,210.26 L166.85,210.26 L168.35,210.26 L169.85,210.26 L171.35,210.26 L172.85,210.26 L174.35,210.26 L175.85,210.26 L177.35,210.26 L178.85,210.26 L180.35,210.26 L181.85,210.26 L183.35,210.26 L184.85,210.26 L186.35,210.26 L187.85,210.26 L189.35,210.26 L190.85,210.26 L192.35,210.26 L193.85,210.26 L195.35,210.26 L196.85,210.26 L198.35,210.26 L199.85,210.26 L201.35,210.26 L202.85,210.26 L204.35,210.26 L205.85,210.26 L207.35,210.26 L208.85,210.26 L210.35,210.26 L211.85,210.26 L213.35,210.26 L214.85,210.26 L216.35,210.26 L217.85,210.26 L219.35,210.26 L220.85,210.26 L222.35,210.26 L223.85,210.27 L225.35,210.27 L226.85,210.27 L228.35,210.27 L229.85,210.27 L231.35,210.27 L232.85,210.27 L234.35,210.28 L235.85,210.28 L237.35,210.28 L238.85,210.28 L240.35,210.29 L241.85,210.29 L243.35,210.30 L244.85,210.31 L246.35,210.31 L247.85,210.32 L249.35,210.33 L250.85,210.34 L252.35,210.36 L253.85,210.37 L255.35,210.39 L256.85,210.41 L258.35,210.44 L259.85,210.46 L261.35,210.50 L262.85,210.54 L264.35,210.58 L265.85,210.63 L267.35,210.69 L268.85,210.76 L270.35,210.85 L271.85,210.94 L273.35,211.05 L274.85,211.18 L276.35,211.33 L277.85,211.50 L279.35,211.70 L280.85,211.93 L282.35,212.19 L283.85,212.50 L285.35,212.86 L286.85,213.27 L288.35,213.74 L289.85,214.29 L291.35,214.91 L292.85,215.63 L294.35,216.45 L295.85,217.40 L297.35,218.47 L298.85,219.69 L300.35,221.07 L301.85,222.63 L303.35,224.38 L304.85,226.35 L306.35,228.54 L307.85,230.98 L309.35,233.67 L310.85,236.63 L312.35,239.86 L313.85,243.37 L315.35,247.18 L316.85,251.26 L318.35,255.63 L319.85,260.27 L321.35,265.17 L322.85,270.33 L324.35,275.74 L325.85,281.36" stroke="#2a9b8c" stroke-width="1.6" stroke-dasharray="3.9 0.85 1.95 0.85"/>
<path d="M63.35,229.48 L64.85,229.48 L66.35,229.48 L67.85,229.48 L69.35,229.48 L70.85,229.48 L72.35,229.48 L73.85,229.48 L75.35,229.48 L76.85,229.48 L78.35,229.48 L79.85,229.48 L81.35,229.48 L82.85,229.48 L84.35,229.48 L85.85,229.48 L87.35,229.48 L88.85,229.48 L90.35,229.48 L91.85,229.48 L93.35,229.48 L94.85,229.48 L96.35,229.48 L97.85,229.48 L99.35,229.48 L100.85,229.48 L102.35,229.48 L103.85,229.48 L105.35,229.48 L106.85,229.48 L108.35,229.48 L109.85,229.48 L111.35,229.48 L112.85,229.48 L114.35,229.48 L115.85,229.48 L117.35,229.48 L118.85,229.48 L120.35,229.48 L121.85,229.48 L123.35,229.48 L124.85,229.48 L126.35,229.48 L127.85,229.48 L129.35,229.48 L130.85,229.48 L132.35,229.48 L133.85,229.48 L135.35,229.48 L136.85,229.48 L138.35,229.48 L139.85,229.48 L141.35,229.48 L142.85,229.48 L144.35,229.48 L145.85,229.48 L147.35,229.48 L148.85,229.48 L150.35,229.48 L151.85,229.48 L153.35,229.48 L154.85,229.48 L156.35,229.48 L157.85,229.48 L159.35,229.48 L160.85,229.48 L162.35,229.48 L163.85,229.48 L165.35,229.48 L166.85,229.48 L168.35,229.48 L169.85,229.48 L171.35,229.48 L172.85,229.48 L174.35,229.48 L175.85,229.48 L177.35,229.48 L178.85,229.48 L180.35,229.48 L181.85,229.48 L183.35,229.48 L184.85,229.48 L186.35,229.48 L187.85,229.48 L189.35,229.48 L190.85,229.48 L192.35,229.48 L193.85,229.48 L195.35,229.48 L196.85,229.48 L198.35,229.48 L199.85,229.48 L201.35,229.48 L202.85,229.48 L204.35,229.48 L205.85,229.48 L207.35,229.48 L208.85,229.48 L210.35,229.48 L211.85,229.48 L213.35,229.48 L214.85,229.48 L216.35,229.48 L217.85,229.48 L219.35,229.48 L220.85,229.48 L222.35,229.48 L223.85,229.48 L225.35,229.48 L226.85,229.48 L228.35,229.48 L229.85,229.48 L231.35,229.48 L232.85,229.48 L234.35,229.48 L235.85,229.48 L237.35,229.48 L238.85,229.49 L240.35,229.49 L241.85,229.49 L243.35,229.49 L244.85,229.49 L246.35,229.49 L247.85,229.49 L249.35,229.49 L250.85,229.50 L252.35,229.50 L253.85,229.50 L255.35,229.51 L256.85,229.51 L258.35,229.52 L259.85,229.52 L261.35,229.53 L262.85,229.54 L264.35,229.55 L265.85,229.56 L267.35,229.57 L268.85,229.59 L270.35,229.60 L271.85,229.62 L273.35,229.65 L274.85,229.67 L276.35,229.71 L277.85,229.74 L279.35,229.79 L280.85,229.83 L282.35,229.89 L283.85,229.96 L285.35,230.04 L286.85,230.13 L288.35,230.23 L289.85,230.35 L291.35,230.49 L292.85,230.66 L294.35,230.85 L295.85,231.07 L297.35,231.32 L298.85,231.61 L300.35,231.95 L301.85,232.34 L303.35,232.80 L304.85,233.32 L306.35,233.91 L307.85,234.60 L309.35,235.39 L310.85,236.29 L312.35,237.31 L313.85,238.48 L315.35,239.81 L316.85,241.31 L318.35,242.99 L319.85,244.89 L321.35,247.00 L322.85,249.36 L324.35,251.96 L325.85,254.83 L327.35,257.97 L328.85,261.39 L330.35,265.10 L331.85,269.09 L333.35,273.36 L334.85,277.91 L336.35,282.73" stroke="#1f718b" stroke-width="1.6" stroke-dasharray="3.9 0.85 1.95 0.85"/>
<path d="M63.35,248.70 L64.85,248.70 L66.35,248.70 L67.85,248.70 L69.35,248.70 L70.85,248.70 L72.35,248.70 L73.85,248.70 L75.35,248.70 L76.85,248.70 L78.35,248.70 L79.85,248.70 L81.35,248.70 L82.85,248.70 L84.35,248.70 L85.85,248.70 L87.35,248.70 L88.85,248.70 L90.35,248.70 L91.85,248.70 L93.35,248.70 L94.85,248.70 L96.35,248.70 L97.85,248.70 L99.35,248.70 L100.85,248.70 L102.35,248.70 L103.85,248.70 L105.35,248.70 L106.85,248.70 L108.35,248.70 L109.85,248.70 L111.35,248.70 L112.85,248.70 L114.35,248.70 L115.85,248.70 L117.35,248.70 L118.85,248.70 L120.35,248.70 L121.85,248.70 L123.35,248.70 L124.85,248.70 L126.35,248.70 L127.85,248.70 L129.35,248.70 L130.85,248.70 L132.35,248.70 L133.85,248.70 L135.35,248.70 L136.85,248.70 L138.35,248.70 L139.85,248.70 L141.35,248.70 L142.85,248.70 L144.35,248.70 L145.85,248.70 L147.35,248.70 L148.85,248.70 L150.35,248.70 L151.85,248.70 L153.35,248.70 L154.85,248.70 L156.35,248.70 L157.85,248.70 L159.35,248.70 L160.85,248.70 L162.35,248.70 L163.85,248.70 L165.35,248.70 L166.85,248.70 L168.35,248.70 L169.85,248.70 L171.35,248.70 L172.85,248.70 L174.35,248.70 L175.85,248.70 L177.35,248.70 L178.85,248.70 L180.35,248.70 L181.85,248.70 L183.35,248.70 L184.85,248.70 L186.35,248.70 L187.85,248.70 L189.35,248.70 L190.85,248.70 L192.35,248.70 L193.85,248.70 L195.35,248.70 L196.85,248.70 L198.35,248.70 L199.85,248.70 L201.35,248.70 L202.85,248.70 L204.35,248.70 L205.85,248.70 L207.35,248.70 L208.85,248.70 L210.35,248.70 L211.85,248.70 L213.35,248.70 L214.85,248.70 L216.35,248.70 L217.85,248.70 L219.35,248.70 L220.85,248.70 L222.35,248.70 L223.85,248.70 L225.35,248.70 L226.85,248.70 L228.35,248.70 L229.85,248.70 L231.35,248.70 L232.85,248.70 L234.35,248.70 L235.85,248.70 L237.35,248.70 L238.85,248.70 L240.35,248.70 L241.85,248.70 L243.35,248.70 L244.85,248.70 L246.35,248.70 L247.85,248.70 L249.35,248.70 L250.85,248.70 L252.35,248.70 L253.85,248.70 L255.35,248.71 L256.85,248.71 L258.35,248.71 L259.85,248.71 L261.35,248.71 L262.85,248.71 L264.35,248.71 L265.85,248.72 L267.35,248.72 L268.85,248.72 L270.35,248.73 L271.85,248.73 L273.35,248.74 L274.85,248.74 L276.35,248.75 L277.85,248.76 L279.35,248.76 L280.85,248.77 L282.35,248.79 L283.85,248.80 L285.35,248.82 L286.85,248.84 L288.35,248.86 L289.85,248.88 L291.35,248.91 L292.85,248.95 L294.35,248.99 L295.85,249.04 L297.35,249.09 L298.85,249.16 L300.35,249.23 L301.85,249.32 L303.35,249.42 L304.85,249.53 L306.35,249.67 L307.85,249.82 L309.35,250.00 L310.85,250.21 L312.35,250.45 L313.85,250.73 L315.35,251.05 L316.85,251.43 L318.35,251.86 L319.85,252.35 L321.35,252.93 L322.85,253.58 L324.35,254.33 L325.85,255.19 L327.35,256.18 L328.85,257.30 L330.35,258.57 L331.85,260.01 L333.35,261.63 L334.85,263.45 L336.35,265.49 L337.85,267.76 L339.35,270.28 L340.85,273.06 L342.35,276.11 L343.85,279.44 L345.35,283.05" stroke="#1b3d85" stroke-width="1.6" stroke-dasharray="3.9 0.85 1.95 0.85"/>
</g>
<rect x="64.55" y="16.45" width="320.40" height="256.90" fill="none" stroke="#7d7d7d" stroke-width="0.7"/>
<path d="M64.55,273.35 v-3.40 M64.55,16.45 v3.40 M110.31,273.35 v-1.70 M110.31,16.45 v1.70 M156.07,273.35 v-3.40 M156.07,16.45 v3.40 M201.83,273.35 v-1.70 M201.83,16.45 v1.70 M247.59,273.35 v-3.40 M247.59,16.45 v3.40 M293.35,273.35 v-1.70 M293.35,16.45 v1.70 M339.11,273.35 v-3.40 M339.11,16.45 v3.40 M384.87,273.35 v-1.70 M384.87,16.45 v1.70 M64.55,16.77 h3.20 M384.95,16.77 h-3.20 M64.55,31.19 h1.70 M384.95,31.19 h-1.70 M64.55,45.61 h1.70 M384.95,45.61 h-1.70 M64.55,60.03 h1.70 M384.95,60.03 h-1.70 M64.55,74.45 h3.20 M384.95,74.45 h-3.20 M64.55,88.87 h1.70 M384.95,88.87 h-1.70 M64.55,103.29 h1.70 M384.95,103.29 h-1.70 M64.55,117.71 h1.70 M384.95,117.71 h-1.70 M64.55,132.13 h3.20 M384.95,132.13 h-3.20 M64.55,146.55 h1.70 M384.95,146.55 h-1.70 M64.55,160.97 h1.70 M384.95,160.97 h-1.70 M64.55,175.39 h1.70 M384.95,175.39 h-1.70 M64.55,189.81 h3.20 M384.95,189.81 h-3.20 M64.55,204.23 h1.70 M384.95,204.23 h-1.70 M64.55,218.65 h1.70 M384.95,218.65 h-1.70 M64.55,233.07 h1.70 M384.95,233.07 h-1.70 M64.55,247.49 h3.20 M384.95,247.49 h-3.20 M64.55,261.91 h1.70 M384.95,261.91 h-1.70" stroke="#a8a8a8" stroke-width="0.5" fill="none"/>
<text x="64.65" y="286.00" text-anchor="middle" class="tl">10<tspan dy="-4.5" font-size="8.2">−5</tspan></text>
<text x="156.07" y="286.00" text-anchor="middle" class="tl">0.001</text>
<text x="247.59" y="286.00" text-anchor="middle" class="tl">0.100</text>
<text x="339.41" y="286.00" text-anchor="middle" class="tl">10</text>
<text x="62.25" y="20.97" text-anchor="end" class="tl">10<tspan dy="-4.5" font-size="8.2">12</tspan></text>
<text x="62.25" y="78.65" text-anchor="end" class="tl">10<tspan dy="-4.5" font-size="8.2">8</tspan></text>
<text x="62.25" y="136.33" text-anchor="end" class="tl">10<tspan dy="-4.5" font-size="8.2">4</tspan></text>
<text x="62.25" y="251.69" text-anchor="end" class="tl">10<tspan dy="-4.5" font-size="8.2">−4</tspan></text>
<text x="60.95" y="194.01" text-anchor="end" class="tl">1</text>
<text x="224.25" y="304.9" text-anchor="middle" class="ax"><tspan font-style="italic">r</tspan> (kpc)</text>
<text x="302.60" y="37.9" class="ml">m = 10<tspan dy="-5.0" font-size="7.4">−22</tspan><tspan dy="5.0"> eV</tspan></text>
<rect x="81.00" y="100.20" width="27.10" height="13.20" fill="#e6de4a"/>
<text x="80.70" y="113.00" class="bl">10<tspan dy="-5.8" font-size="9.3">14</tspan></text>
<rect x="81.00" y="144.00" width="27.10" height="13.40" fill="#8fd25d"/>
<text x="80.70" y="157.00" class="bl">10<tspan dy="-5.8" font-size="9.3">13</tspan></text>
<rect x="81.00" y="162.70" width="27.10" height="13.30" fill="#5ec36e"/>
<text x="80.70" y="175.60" class="bl">10<tspan dy="-5.8" font-size="9.3">12</tspan></text>
<rect x="81.00" y="181.80" width="27.10" height="13.10" fill="#3bb080"/>
<text x="80.70" y="194.50" class="bl">10<tspan dy="-5.8" font-size="9.3">11</tspan></text>
<rect x="81.00" y="200.40" width="27.10" height="13.30" fill="#2a9b8c"/>
<text x="80.70" y="213.30" class="bl">10<tspan dy="-5.8" font-size="9.3">10</tspan></text>
<rect x="84.00" y="219.10" width="21.00" height="16.70" fill="#1f718b"/>
<text x="83.90" y="232.90" class="bl" fill="#fff">10<tspan dy="-5.8" font-size="9.3">9</tspan></text>
<rect x="84.00" y="243.80" width="21.00" height="17.20" fill="#1b3d85"/>
<text x="83.90" y="258.10" class="bl" fill="#fff">10<tspan dy="-5.8" font-size="9.3">8</tspan></text>
<clipPath id="c1"><rect x="453.20" y="16.45" width="321.60" height="256.90"/></clipPath>
<g clip-path="url(#c1)" fill="none">
<path d="M453.30,36.40 L454.50,36.48 L455.69,36.57 L456.89,36.65 L458.09,36.74 L459.29,36.82 L460.48,36.92 L461.68,37.01 L462.87,37.11 L464.07,37.22 L465.26,37.32 L466.46,37.44 L467.65,37.56 L468.85,37.69 L470.04,37.82 L471.23,37.95 L472.42,38.09 L473.62,38.23 L474.81,38.38 L476.00,38.52 L477.19,38.67 L478.38,38.82 L479.56,38.98 L480.75,39.13 L481.94,39.29 L483.13,39.45 L484.32,39.61 L485.51,39.77 L486.70,39.94 L487.89,40.10 L489.08,40.27 L490.27,40.44 L491.46,40.61 L492.65,40.79 L493.84,40.98 L495.03,41.19 L496.20,41.42 L497.37,41.69 L498.53,41.99 L499.68,42.33 L500.82,42.72 L501.94,43.15 L503.04,43.63 L504.13,44.15 L505.19,44.72 L506.23,45.32 L507.25,45.96 L508.24,46.63 L509.22,47.32 L510.19,48.03 L511.15,48.75 L512.11,49.48 L513.06,50.21 L514.01,50.94 L514.96,51.68 L515.89,52.44 L516.80,53.22 L517.69,54.03 L518.55,54.86 L519.39,55.73 L520.19,56.62 L520.96,57.55 L521.68,58.50 L522.37,59.48 L523.04,60.48 L523.68,61.50 L524.31,62.52 L524.94,63.55 L525.55,64.58 L526.16,65.61 L526.76,66.65 L527.35,67.69 L527.93,68.74 L528.50,69.80 L529.06,70.86 L529.61,71.93 L530.15,73.00 L530.69,74.07 L531.22,75.15 L531.75,76.23 L532.27,77.31 L532.79,78.39 L533.30,79.48 L533.81,80.56 L534.31,81.66 L534.80,82.75 L535.28,83.85 L535.76,84.95 L536.22,86.06 L536.67,87.17 L537.11,88.29 L537.55,89.40 L537.97,90.53 L538.38,91.65 L538.79,92.78 L539.19,93.92 L539.58,95.05 L539.96,96.19 L540.33,97.33 L540.70,98.47 L541.07,99.62 L541.43,100.76 L541.78,101.91 L542.13,103.06 L542.47,104.21 L542.81,105.36 L543.14,106.51 L543.47,107.67 L543.79,108.83 L544.10,109.98 L544.41,111.15 L544.70,112.31 L544.99,113.47 L545.27,114.64 L545.55,115.81 L545.81,116.98 L546.07,118.15 L546.32,119.32 L546.56,120.50 L546.79,121.68 L547.02,122.86 L547.24,124.04 L547.46,125.22 L547.67,126.40 L547.87,127.58 L548.07,128.76 L548.27,129.95 L548.45,131.13 L548.63,132.32 L548.81,133.51 L548.97,134.70 L549.13,135.89 L549.29,137.08 L549.43,138.27 L549.57,139.46 L549.70,140.65 L549.83,141.85 L549.94,143.04 L550.05,144.24 L550.16,145.43 L550.26,146.63 L550.35,147.82 L550.43,149.02 L550.51,150.22 L550.59,151.42 L550.66,152.61 L550.72,153.81 L550.78,155.01 L550.84,156.21 L550.89,157.41 L550.93,158.61 L550.98,159.81 L551.02,161.01 L551.05,162.21 L551.09,163.41 L551.12,164.61 L551.15,165.81 L551.18,167.01 L551.20,168.21 L551.23,169.41 L551.25,170.61 L551.28,171.81 L551.30,173.01 L551.32,174.21 L551.34,175.40 L551.36,176.60 L551.38,177.80 L551.40,179.00 L551.41,180.20 L551.43,181.40 L551.45,182.60 L551.46,183.80 L551.47,185.00 L551.49,186.20 L551.50,187.40 L551.51,188.60 L551.52,189.80 L551.53,191.00 L551.54,192.20 L551.55,193.40 L551.56,194.60 L551.57,195.80 L551.58,197.00 L551.59,198.20 L551.60,199.40 L551.60,200.60 L551.61,201.80 L551.62,203.00 L551.62,204.20 L551.63,205.40 L551.64,206.60 L551.64,207.80 L551.65,209.00 L551.65,210.20 L551.65,211.40 L551.66,212.60 L551.66,213.80 L551.67,215.00 L551.67,216.20 L551.67,217.40 L551.68,218.60 L551.68,219.80 L551.68,221.00 L551.68,222.20 L551.69,223.40 L551.69,224.60 L551.69,225.80 L551.69,227.00 L551.70,228.20 L551.70,229.40 L551.70,230.60 L551.70,231.80 L551.71,233.00 L551.71,234.20 L551.71,235.40 L551.71,236.60 L551.72,237.80 L551.72,239.00 L551.72,240.20 L551.72,241.40 L551.72,242.60 L551.73,243.80 L551.73,245.00 L551.73,246.20 L551.73,247.40 L551.74,248.60 L551.74,249.80 L551.74,251.00 L551.74,252.20 L551.75,253.40 L551.75,254.60 L551.75,255.80 L551.75,257.00 L551.76,258.20 L551.76,259.40 L551.76,260.60 L551.76,261.80 L551.77,263.00 L551.77,264.20 L551.77,265.40 L551.77,266.60 L551.78,267.80 L551.78,269.00 L551.78,270.20 L551.78,271.40 L551.79,272.60 L551.79,273.80 L551.79,275.00 L551.79,276.20 L551.79,277.40 L551.80,278.60 L551.80,279.80 L551.80,280.00" stroke="#e6de4a" stroke-opacity="0.28" stroke-width="4.6" stroke-linejoin="round"/>
<path d="M453.30,101.20 L454.50,101.20 L455.70,101.19 L456.91,101.19 L458.11,101.19 L459.31,101.18 L460.51,101.18 L461.71,101.18 L462.91,101.18 L464.12,101.18 L465.32,101.18 L466.52,101.17 L467.72,101.17 L468.92,101.17 L470.12,101.17 L471.32,101.18 L472.52,101.18 L473.73,101.18 L474.93,101.18 L476.13,101.19 L477.33,101.19 L478.53,101.20 L479.73,101.21 L480.93,101.21 L482.13,101.22 L483.33,101.23 L484.53,101.24 L485.73,101.26 L486.92,101.27 L488.12,101.28 L489.32,101.30 L490.52,101.32 L491.72,101.33 L492.92,101.35 L494.11,101.37 L495.31,101.40 L496.51,101.42 L497.71,101.45 L498.90,101.47 L500.10,101.50 L501.29,101.53 L502.49,101.57 L503.69,101.60 L504.88,101.63 L506.08,101.67 L507.27,101.71 L508.47,101.75 L509.66,101.79 L510.86,101.84 L512.05,101.88 L513.25,101.93 L514.44,101.97 L515.64,102.02 L516.83,102.07 L518.03,102.13 L519.23,102.18 L520.42,102.23 L521.62,102.29 L522.82,102.35 L524.02,102.41 L525.22,102.47 L526.42,102.53 L527.62,102.59 L528.82,102.65 L530.02,102.72 L531.22,102.78 L532.42,102.85 L533.63,102.92 L534.83,102.99 L536.03,103.06 L537.24,103.13 L538.45,103.21 L539.66,103.28 L540.87,103.35 L542.07,103.43 L543.28,103.51 L544.49,103.60 L545.70,103.69 L546.91,103.80 L548.11,103.91 L549.32,104.04 L550.51,104.18 L551.71,104.34 L552.90,104.51 L554.08,104.71 L555.26,104.92 L556.44,105.16 L557.60,105.43 L558.76,105.72 L559.91,106.03 L561.06,106.38 L562.19,106.76 L563.32,107.17 L564.43,107.62 L565.53,108.10 L566.63,108.61 L567.70,109.15 L568.77,109.72 L569.82,110.31 L570.85,110.94 L571.87,111.59 L572.86,112.27 L573.84,112.98 L574.81,113.70 L575.75,114.46 L576.67,115.24 L577.56,116.04 L578.43,116.87 L579.27,117.72 L580.09,118.60 L580.87,119.50 L581.63,120.43 L582.36,121.38 L583.06,122.35 L583.73,123.34 L584.39,124.35 L585.02,125.38 L585.63,126.42 L586.22,127.47 L586.79,128.54 L587.35,129.61 L587.89,130.70 L588.41,131.79 L588.93,132.89 L589.43,133.99 L589.92,135.09 L590.40,136.19 L590.87,137.30 L591.33,138.41 L591.79,139.52 L592.24,140.64 L592.68,141.75 L593.11,142.87 L593.54,143.99 L593.96,145.11 L594.38,146.23 L594.80,147.36 L595.21,148.48 L595.62,149.61 L596.02,150.73 L596.43,151.86 L596.83,152.99 L597.24,154.12 L597.64,155.25 L598.04,156.38 L598.44,157.51 L598.84,158.64 L599.23,159.78 L599.62,160.91 L600.01,162.05 L600.40,163.18 L600.78,164.32 L601.16,165.46 L601.54,166.60 L601.92,167.74 L602.29,168.88 L602.65,170.03 L603.01,171.17 L603.37,172.32 L603.72,173.47 L604.07,174.62 L604.40,175.77 L604.73,176.93 L605.06,178.08 L605.37,179.24 L605.68,180.40 L605.97,181.56 L606.26,182.73 L606.53,183.90 L606.80,185.07 L607.05,186.24 L607.29,187.42 L607.52,188.59 L607.74,189.77 L607.94,190.96 L608.14,192.14 L608.32,193.33 L608.50,194.52 L608.66,195.71 L608.81,196.90 L608.96,198.09 L609.09,199.29 L609.21,200.48 L609.33,201.68 L609.43,202.87 L609.53,204.07 L609.62,205.27 L609.70,206.47 L609.77,207.66 L609.83,208.86 L609.89,210.06 L609.94,211.26 L609.99,212.46 L610.03,213.66 L610.06,214.86 L610.09,216.06 L610.12,217.26 L610.14,218.46 L610.16,219.66 L610.18,220.86 L610.20,222.06 L610.21,223.26 L610.22,224.46 L610.23,225.66 L610.24,226.86 L610.25,228.06 L610.26,229.26 L610.27,230.46 L610.28,231.66 L610.28,232.86 L610.29,234.06 L610.29,235.26 L610.29,236.46 L610.30,237.66 L610.30,238.86 L610.30,240.06 L610.30,241.26 L610.30,242.46 L610.30,243.66 L610.30,244.86 L610.30,246.06 L610.30,247.26 L610.30,248.46 L610.30,249.66 L610.30,250.86 L610.30,252.06 L610.30,253.26 L610.30,254.46 L610.30,255.66 L610.30,256.86 L610.30,258.06 L610.30,259.26 L610.30,260.46 L610.30,261.66 L610.30,262.86 L610.30,264.06 L610.30,265.26 L610.30,266.46 L610.30,267.66 L610.30,268.86 L610.30,270.06 L610.30,271.26 L610.30,272.46 L610.30,273.66 L610.30,274.86 L610.30,276.06 L610.30,277.26 L610.30,278.46 L610.30,279.66 L610.30,280.00" stroke="#8fd25d" stroke-opacity="0.31" stroke-width="5.0" stroke-linejoin="round"/>
<path d="M610.30,232.80 L610.30,280.00" stroke="#8fd25d" stroke-opacity="0.31" stroke-width="5.3" stroke-linejoin="round"/>
<path d="M453.30,140.90 L454.50,140.90 L455.70,140.90 L456.90,140.91 L458.11,140.91 L459.31,140.91 L460.51,140.91 L461.71,140.92 L462.91,140.92 L464.11,140.92 L465.32,140.92 L466.52,140.92 L467.72,140.93 L468.92,140.93 L470.12,140.93 L471.32,140.93 L472.52,140.93 L473.72,140.93 L474.93,140.94 L476.13,140.94 L477.33,140.94 L478.53,140.94 L479.73,140.94 L480.93,140.94 L482.13,140.94 L483.33,140.95 L484.53,140.95 L485.73,140.95 L486.93,140.95 L488.13,140.95 L489.33,140.95 L490.53,140.95 L491.73,140.95 L492.93,140.95 L494.13,140.95 L495.33,140.95 L496.53,140.95 L497.73,140.95 L498.93,140.95 L500.13,140.94 L501.33,140.94 L502.53,140.94 L503.73,140.94 L504.93,140.94 L506.13,140.94 L507.33,140.94 L508.52,140.93 L509.72,140.93 L510.92,140.93 L512.12,140.92 L513.32,140.92 L514.51,140.92 L515.71,140.91 L516.91,140.91 L518.10,140.91 L519.30,140.90 L520.50,140.90 L521.70,140.89 L522.89,140.89 L524.09,140.88 L525.28,140.88 L526.48,140.87 L527.68,140.87 L528.87,140.86 L530.07,140.86 L531.26,140.85 L532.46,140.85 L533.66,140.84 L534.85,140.84 L536.05,140.84 L537.24,140.83 L538.44,140.83 L539.64,140.83 L540.83,140.83 L542.03,140.83 L543.23,140.83 L544.42,140.83 L545.62,140.83 L546.82,140.83 L548.02,140.83 L549.21,140.84 L550.41,140.84 L551.61,140.85 L552.81,140.85 L554.01,140.86 L555.21,140.87 L556.41,140.88 L557.61,140.89 L558.81,140.91 L560.01,140.92 L561.21,140.94 L562.41,140.95 L563.61,140.97 L564.81,140.99 L566.02,141.01 L567.22,141.04 L568.43,141.06 L569.63,141.09 L570.84,141.12 L572.04,141.15 L573.25,141.18 L574.46,141.22 L575.66,141.25 L576.87,141.29 L578.08,141.33 L579.29,141.37 L580.50,141.42 L581.71,141.47 L582.92,141.52 L584.13,141.58 L585.34,141.65 L586.55,141.73 L587.76,141.83 L588.96,141.94 L590.15,142.07 L591.35,142.23 L592.54,142.40 L593.72,142.60 L594.90,142.83 L596.07,143.08 L597.23,143.37 L598.38,143.69 L599.53,144.04 L600.66,144.44 L601.79,144.87 L602.90,145.34 L603.99,145.85 L605.06,146.41 L606.11,147.01 L607.13,147.65 L608.12,148.34 L609.07,149.07 L609.99,149.85 L610.87,150.66 L611.72,151.52 L612.53,152.40 L613.32,153.32 L614.07,154.26 L614.80,155.22 L615.50,156.20 L616.17,157.20 L616.81,158.21 L617.44,159.24 L618.04,160.27 L618.63,161.32 L619.20,162.38 L619.76,163.44 L620.30,164.51 L620.84,165.59 L621.36,166.67 L621.88,167.76 L622.40,168.84 L622.92,169.93 L623.43,171.02 L623.93,172.11 L624.43,173.21 L624.92,174.30 L625.41,175.40 L625.89,176.50 L626.36,177.61 L626.82,178.71 L627.27,179.83 L627.71,180.94 L628.14,182.06 L628.56,183.18 L628.96,184.31 L629.35,185.44 L629.73,186.58 L630.09,187.72 L630.45,188.87 L630.79,190.02 L631.12,191.17 L631.44,192.33 L631.75,193.49 L632.05,194.65 L632.34,195.82 L632.63,196.99 L632.91,198.15 L633.18,199.33 L633.45,200.50 L633.71,201.67 L633.97,202.84 L634.22,204.02 L634.47,205.19 L634.71,206.37 L634.96,207.54 L635.20,208.72 L635.43,209.90 L635.66,211.07 L635.89,212.25 L636.12,213.43 L636.34,214.61 L636.56,215.79 L636.78,216.97 L636.99,218.15 L637.20,219.33 L637.41,220.51 L637.61,221.69 L637.81,222.88 L638.01,224.06 L638.21,225.24 L638.40,226.43 L638.58,227.62 L638.77,228.80 L638.95,229.99 L639.12,231.18 L639.29,232.36 L639.46,233.55 L639.63,234.74 L639.79,235.93 L639.94,237.12 L640.09,238.31 L640.24,239.50 L640.38,240.70 L640.52,241.89 L640.65,243.08 L640.77,244.27 L640.89,245.47 L641.01,246.66 L641.12,247.86 L641.22,249.05 L641.32,250.25 L641.41,251.45 L641.50,252.64 L641.58,253.84 L641.65,255.04 L641.72,256.23 L641.79,257.43 L641.85,258.63 L641.91,259.83 L641.96,261.03 L642.01,262.23 L642.05,263.43 L642.09,264.63 L642.13,265.83 L642.16,267.03 L642.19,268.23 L642.22,269.43 L642.25,270.63 L642.27,271.83 L642.30,273.03 L642.32,274.23 L642.33,275.43 L642.35,276.63 L642.37,277.83 L642.39,279.03 L642.40,280.00" stroke="#5ec36e" stroke-opacity="0.30" stroke-width="5.4" stroke-linejoin="round"/>
<path d="M453.20,162.06 L454.70,162.06 L456.20,162.06 L457.70,162.06 L459.20,162.06 L460.70,162.06 L462.20,162.06 L463.70,162.06 L465.20,162.06 L466.70,162.06 L468.20,162.06 L469.70,162.06 L471.20,162.06 L472.70,162.06 L474.20,162.06 L475.70,162.06 L477.20,162.06 L478.70,162.06 L480.20,162.06 L481.70,162.06 L483.20,162.06 L484.70,162.06 L486.20,162.06 L487.70,162.06 L489.20,162.06 L490.70,162.06 L492.20,162.06 L493.70,162.06 L495.20,162.06 L496.70,162.06 L498.20,162.06 L499.70,162.06 L501.20,162.06 L502.70,162.06 L504.20,162.06 L505.70,162.06 L507.20,162.06 L508.70,162.06 L510.20,162.06 L511.70,162.06 L513.20,162.06 L514.70,162.06 L516.20,162.06 L517.70,162.06 L519.20,162.06 L520.70,162.06 L522.20,162.06 L523.70,162.06 L525.20,162.06 L526.70,162.06 L528.20,162.06 L529.70,162.06 L531.20,162.06 L532.70,162.06 L534.20,162.06 L535.70,162.06 L537.20,162.06 L538.70,162.06 L540.20,162.06 L541.70,162.06 L543.20,162.06 L544.70,162.06 L546.20,162.06 L547.70,162.06 L549.20,162.06 L550.70,162.06 L552.20,162.07 L553.70,162.07 L555.20,162.07 L556.70,162.07 L558.20,162.07 L559.70,162.07 L561.20,162.07 L562.70,162.08 L564.20,162.08 L565.70,162.08 L567.20,162.08 L568.70,162.09 L570.20,162.09 L571.70,162.10 L573.20,162.10 L574.70,162.11 L576.20,162.12 L577.70,162.13 L579.20,162.14 L580.70,162.15 L582.20,162.17 L583.70,162.19 L585.20,162.21 L586.70,162.23 L588.20,162.26 L589.70,162.29 L591.20,162.33 L592.70,162.37 L594.20,162.42 L595.70,162.48 L597.20,162.55 L598.70,162.63 L600.20,162.72 L601.70,162.83 L603.20,162.96 L604.70,163.10 L606.20,163.27 L607.70,163.46 L609.20,163.69 L610.70,163.95 L612.20,164.25 L613.70,164.60 L615.20,165.00 L616.70,165.46 L618.20,165.99 L619.70,166.61 L621.20,167.31 L622.70,168.12 L624.20,169.04 L625.70,170.09 L627.20,171.28 L628.70,172.63 L630.19,174.16 L631.69,175.89 L633.19,177.82 L634.68,179.97 L636.17,182.37 L637.66,185.02 L639.14,187.93 L640.61,191.12 L642.08,194.59 L643.53,198.35 L644.96,202.39 L646.38,206.71 L647.77,211.31 L649.13,216.17 L650.45,221.29 L651.72,226.66 L652.95,232.25 L654.11,238.05 L655.20,244.05 L656.21,250.23 L657.14,256.57 L657.96,263.05 L658.68,269.67 L659.28,276.41 L659.74,283.25" stroke="#3bb080" stroke-opacity="0.29" stroke-width="4.6" stroke-linejoin="round"/>
<path d="M453.20,181.24 L454.70,181.24 L456.20,181.24 L457.70,181.24 L459.20,181.24 L460.70,181.24 L462.20,181.24 L463.70,181.24 L465.20,181.24 L466.70,181.24 L468.20,181.24 L469.70,181.24 L471.20,181.24 L472.70,181.24 L474.20,181.24 L475.70,181.24 L477.20,181.24 L478.70,181.24 L480.20,181.24 L481.70,181.24 L483.20,181.24 L484.70,181.24 L486.20,181.24 L487.70,181.24 L489.20,181.24 L490.70,181.24 L492.20,181.24 L493.70,181.24 L495.20,181.24 L496.70,181.24 L498.20,181.24 L499.70,181.24 L501.20,181.24 L502.70,181.24 L504.20,181.24 L505.70,181.24 L507.20,181.24 L508.70,181.24 L510.20,181.24 L511.70,181.24 L513.20,181.24 L514.70,181.24 L516.20,181.24 L517.70,181.24 L519.20,181.24 L520.70,181.24 L522.20,181.24 L523.70,181.24 L525.20,181.24 L526.70,181.24 L528.20,181.24 L529.70,181.24 L531.20,181.24 L532.70,181.24 L534.20,181.24 L535.70,181.24 L537.20,181.24 L538.70,181.24 L540.20,181.24 L541.70,181.24 L543.20,181.24 L544.70,181.24 L546.20,181.24 L547.70,181.24 L549.20,181.24 L550.70,181.24 L552.20,181.24 L553.70,181.24 L555.20,181.24 L556.70,181.24 L558.20,181.24 L559.70,181.24 L561.20,181.24 L562.70,181.24 L564.20,181.24 L565.70,181.24 L567.20,181.25 L568.70,181.25 L570.20,181.25 L571.70,181.25 L573.20,181.25 L574.70,181.25 L576.20,181.25 L577.70,181.25 L579.20,181.26 L580.70,181.26 L582.20,181.26 L583.70,181.27 L585.20,181.27 L586.70,181.28 L588.20,181.28 L589.70,181.29 L591.20,181.30 L592.70,181.31 L594.20,181.32 L595.70,181.33 L597.20,181.34 L598.70,181.36 L600.20,181.38 L601.70,181.40 L603.20,181.43 L604.70,181.46 L606.20,181.50 L607.70,181.54 L609.20,181.59 L610.70,181.64 L612.20,181.71 L613.70,181.78 L615.20,181.87 L616.70,181.97 L618.20,182.09 L619.70,182.23 L621.20,182.39 L622.70,182.57 L624.20,182.79 L625.70,183.04 L627.20,183.32 L628.70,183.66 L630.20,184.04 L631.70,184.48 L633.20,184.99 L634.70,185.57 L636.20,186.24 L637.70,187.01 L639.20,187.90 L640.70,188.90 L642.20,190.05 L643.70,191.34 L645.20,192.81 L646.69,194.47 L648.19,196.33 L649.69,198.41 L651.18,200.72 L652.67,203.29 L654.16,206.11 L655.64,209.21 L657.11,212.59 L658.58,216.24 L660.03,220.19 L661.47,224.42 L662.89,228.92 L664.29,233.70 L665.66,238.74 L667.00,244.02 L668.30,249.54 L669.56,255.27 L670.76,261.21 L671.90,267.33 L672.98,273.62 L673.98,280.06 L674.90,286.63" stroke="#2a9b8c" stroke-opacity="0.28" stroke-width="4.6" stroke-linejoin="round"/>
<path d="M453.20,200.42 L454.70,200.42 L456.20,200.42 L457.70,200.42 L459.20,200.42 L460.70,200.42 L462.20,200.42 L463.70,200.42 L465.20,200.42 L466.70,200.42 L468.20,200.42 L469.70,200.42 L471.20,200.42 L472.70,200.42 L474.20,200.42 L475.70,200.42 L477.20,200.42 L478.70,200.42 L480.20,200.42 L481.70,200.42 L483.20,200.42 L484.70,200.42 L486.20,200.42 L487.70,200.42 L489.20,200.42 L490.70,200.42 L492.20,200.42 L493.70,200.42 L495.20,200.42 L496.70,200.42 L498.20,200.42 L499.70,200.42 L501.20,200.42 L502.70,200.42 L504.20,200.42 L505.70,200.42 L507.20,200.42 L508.70,200.42 L510.20,200.42 L511.70,200.42 L513.20,200.42 L514.70,200.42 L516.20,200.42 L517.70,200.42 L519.20,200.42 L520.70,200.42 L522.20,200.42 L523.70,200.42 L525.20,200.42 L526.70,200.42 L528.20,200.42 L529.70,200.42 L531.20,200.42 L532.70,200.42 L534.20,200.42 L535.70,200.42 L537.20,200.42 L538.70,200.42 L540.20,200.42 L541.70,200.42 L543.20,200.42 L544.70,200.42 L546.20,200.42 L547.70,200.42 L549.20,200.42 L550.70,200.42 L552.20,200.42 L553.70,200.42 L555.20,200.42 L556.70,200.42 L558.20,200.42 L559.70,200.42 L561.20,200.42 L562.70,200.42 L564.20,200.42 L565.70,200.42 L567.20,200.42 L568.70,200.42 L570.20,200.42 L571.70,200.42 L573.20,200.42 L574.70,200.42 L576.20,200.42 L577.70,200.42 L579.20,200.42 L580.70,200.42 L582.20,200.42 L583.70,200.43 L585.20,200.43 L586.70,200.43 L588.20,200.43 L589.70,200.43 L591.20,200.43 L592.70,200.43 L594.20,200.44 L595.70,200.44 L597.20,200.44 L598.70,200.45 L600.20,200.45 L601.70,200.45 L603.20,200.46 L604.70,200.47 L606.20,200.47 L607.70,200.48 L609.20,200.49 L610.70,200.50 L612.20,200.52 L613.70,200.53 L615.20,200.55 L616.70,200.58 L618.20,200.60 L619.70,200.63 L621.20,200.66 L622.70,200.70 L624.20,200.75 L625.70,200.80 L627.20,200.87 L628.70,200.94 L630.20,201.02 L631.70,201.12 L633.20,201.23 L634.70,201.36 L636.20,201.51 L637.70,201.69 L639.20,201.89 L640.70,202.13 L642.20,202.40 L643.70,202.72 L645.20,203.08 L646.70,203.51 L648.20,203.99 L649.70,204.55 L651.20,205.19 L652.70,205.93 L654.20,206.77 L655.70,207.73 L657.20,208.83 L658.70,210.07 L660.19,211.48 L661.69,213.08 L663.19,214.87 L664.68,216.87 L666.17,219.11 L667.66,221.58 L669.14,224.32 L670.61,227.33 L672.07,230.61 L673.52,234.17 L674.95,238.02 L676.36,242.16 L677.74,246.57 L679.09,251.26 L680.39,256.21 L681.65,261.41 L682.84,266.86 L683.96,272.52 L685.00,278.39 L685.95,284.45" stroke="#1f718b" stroke-opacity="0.26" stroke-width="4.6" stroke-linejoin="round"/>
<path d="M453.20,219.60 L454.70,219.60 L456.20,219.60 L457.70,219.60 L459.20,219.60 L460.70,219.60 L462.20,219.60 L463.70,219.60 L465.20,219.60 L466.70,219.60 L468.20,219.60 L469.70,219.60 L471.20,219.60 L472.70,219.60 L474.20,219.60 L475.70,219.60 L477.20,219.60 L478.70,219.60 L480.20,219.60 L481.70,219.60 L483.20,219.60 L484.70,219.60 L486.20,219.60 L487.70,219.60 L489.20,219.60 L490.70,219.60 L492.20,219.60 L493.70,219.60 L495.20,219.60 L496.70,219.60 L498.20,219.60 L499.70,219.60 L501.20,219.60 L502.70,219.60 L504.20,219.60 L505.70,219.60 L507.20,219.60 L508.70,219.60 L510.20,219.60 L511.70,219.60 L513.20,219.60 L514.70,219.60 L516.20,219.60 L517.70,219.60 L519.20,219.60 L520.70,219.60 L522.20,219.60 L523.70,219.60 L525.20,219.60 L526.70,219.60 L528.20,219.60 L529.70,219.60 L531.20,219.60 L532.70,219.60 L534.20,219.60 L535.70,219.60 L537.20,219.60 L538.70,219.60 L540.20,219.60 L541.70,219.60 L543.20,219.60 L544.70,219.60 L546.20,219.60 L547.70,219.60 L549.20,219.60 L550.70,219.60 L552.20,219.60 L553.70,219.60 L555.20,219.60 L556.70,219.60 L558.20,219.60 L559.70,219.60 L561.20,219.60 L562.70,219.60 L564.20,219.60 L565.70,219.60 L567.20,219.60 L568.70,219.60 L570.20,219.60 L571.70,219.60 L573.20,219.60 L574.70,219.60 L576.20,219.60 L577.70,219.60 L579.20,219.60 L580.70,219.60 L582.20,219.60 L583.70,219.60 L585.20,219.60 L586.70,219.60 L588.20,219.60 L589.70,219.60 L591.20,219.60 L592.70,219.60 L594.20,219.60 L595.70,219.60 L597.20,219.60 L598.70,219.61 L600.20,219.61 L601.70,219.61 L603.20,219.61 L604.70,219.61 L606.20,219.61 L607.70,219.61 L609.20,219.62 L610.70,219.62 L612.20,219.62 L613.70,219.62 L615.20,219.63 L616.70,219.63 L618.20,219.64 L619.70,219.64 L621.20,219.65 L622.70,219.66 L624.20,219.67 L625.70,219.68 L627.20,219.69 L628.70,219.71 L630.20,219.73 L631.70,219.75 L633.20,219.77 L634.70,219.80 L636.20,219.83 L637.70,219.87 L639.20,219.91 L640.70,219.96 L642.20,220.02 L643.70,220.09 L645.20,220.17 L646.70,220.26 L648.20,220.37 L649.70,220.50 L651.20,220.64 L652.70,220.81 L654.20,221.00 L655.70,221.23 L657.20,221.49 L658.70,221.79 L660.20,222.14 L661.70,222.54 L663.20,223.00 L664.70,223.53 L666.20,224.15 L667.70,224.85 L669.20,225.66 L670.70,226.58 L672.20,227.63 L673.70,228.82 L675.20,230.17 L676.70,231.70 L678.20,233.43 L679.70,235.36 L681.20,237.51 L682.70,239.91 L684.20,242.56 L685.70,245.47 L687.20,248.66 L688.70,252.13 L690.20,255.89 L691.70,259.93 L693.20,264.25 L694.70,268.85 L696.20,273.71 L697.70,278.83 L699.20,284.20" stroke="#1b3d85" stroke-opacity="0.26" stroke-width="4.6" stroke-linejoin="round"/>
<path d="M453.20,104.52 L454.70,104.52 L456.20,104.52 L457.70,104.52 L459.20,104.52 L460.70,104.52 L462.20,104.52 L463.70,104.52 L465.20,104.52 L466.70,104.52 L468.20,104.52 L469.70,104.52 L471.20,104.52 L472.70,104.52 L474.20,104.52 L475.70,104.52 L477.20,104.52 L478.70,104.52 L480.20,104.52 L481.70,104.52 L483.20,104.52 L484.70,104.52 L486.20,104.52 L487.70,104.52 L489.20,104.52 L490.70,104.52 L492.20,104.52 L493.70,104.52 L495.20,104.52 L496.70,104.52 L498.20,104.52 L499.70,104.52 L501.20,104.52 L502.70,104.52 L504.20,104.52 L505.70,104.53 L507.20,104.53 L508.70,104.53 L510.20,104.53 L511.70,104.53 L513.20,104.53 L514.70,104.53 L516.20,104.54 L517.70,104.54 L519.20,104.54 L520.70,104.54 L522.20,104.55 L523.70,104.55 L525.20,104.56 L526.70,104.56 L528.20,104.57 L529.70,104.58 L531.20,104.59 L532.70,104.60 L534.20,104.61 L535.70,104.63 L537.20,104.65 L538.70,104.67 L540.20,104.69 L541.70,104.72 L543.20,104.75 L544.70,104.79 L546.20,104.83 L547.70,104.88 L549.20,104.94 L550.70,105.01 L552.20,105.09 L553.70,105.18 L555.20,105.29 L556.70,105.42 L558.20,105.56 L559.70,105.73 L561.20,105.92 L562.70,106.15 L564.20,106.41 L565.70,106.71 L567.20,107.06 L568.70,107.46 L570.20,107.92 L571.70,108.45 L573.20,109.07 L574.70,109.77 L576.20,110.58 L577.70,111.50 L579.20,112.55 L580.70,113.74 L582.20,115.09 L583.70,116.62 L585.20,118.35 L586.70,120.28 L588.20,122.43 L589.70,124.83 L591.20,127.48 L592.70,130.39 L594.20,133.58 L595.70,137.05 L597.20,140.81 L598.70,144.85 L600.20,149.17 L601.70,153.77 L603.20,158.63 L604.70,163.75 L606.20,169.12 L607.70,174.71 L609.20,180.51 L610.70,186.51 L612.20,192.69 L613.70,199.03 L615.20,205.51 L616.70,212.13 L618.20,218.87 L619.70,225.71 L621.20,232.64 L622.70,239.66 L624.20,246.75 L625.70,253.90 L627.20,261.10 L628.70,268.36 L630.20,275.65 L631.70,282.99" stroke="#e6de4a" stroke-width="1.6" stroke-dasharray="3.9 0.85 1.95 0.85"/>
<path d="M453.20,123.70 L454.70,123.70 L456.20,123.70 L457.70,123.70 L459.20,123.70 L460.70,123.70 L462.20,123.70 L463.70,123.70 L465.20,123.70 L466.70,123.70 L468.20,123.70 L469.70,123.70 L471.20,123.70 L472.70,123.70 L474.20,123.70 L475.70,123.70 L477.20,123.70 L478.70,123.70 L480.20,123.70 L481.70,123.70 L483.20,123.70 L484.70,123.70 L486.20,123.70 L487.70,123.70 L489.20,123.70 L490.70,123.70 L492.20,123.70 L493.70,123.70 L495.20,123.70 L496.70,123.70 L498.20,123.70 L499.70,123.70 L501.20,123.70 L502.70,123.70 L504.20,123.70 L505.70,123.70 L507.20,123.70 L508.70,123.70 L510.20,123.70 L511.70,123.70 L513.20,123.70 L514.70,123.70 L516.20,123.70 L517.70,123.70 L519.20,123.70 L520.70,123.71 L522.20,123.71 L523.70,123.71 L525.20,123.71 L526.70,123.71 L528.20,123.71 L529.70,123.71 L531.20,123.71 L532.70,123.72 L534.20,123.72 L535.70,123.72 L537.20,123.73 L538.70,123.73 L540.20,123.74 L541.70,123.74 L543.20,123.75 L544.70,123.76 L546.20,123.77 L547.70,123.78 L549.20,123.79 L550.70,123.80 L552.20,123.82 L553.70,123.84 L555.20,123.86 L556.70,123.89 L558.20,123.92 L559.70,123.96 L561.20,124.00 L562.70,124.05 L564.20,124.10 L565.70,124.17 L567.20,124.24 L568.70,124.33 L570.20,124.43 L571.70,124.55 L573.20,124.69 L574.70,124.85 L576.20,125.03 L577.70,125.25 L579.20,125.50 L580.70,125.78 L582.20,126.12 L583.70,126.50 L585.20,126.94 L586.70,127.45 L588.20,128.03 L589.70,128.70 L591.20,129.47 L592.70,130.36 L594.20,131.36 L595.70,132.51 L597.20,133.80 L598.70,135.27 L600.20,136.93 L601.70,138.79 L603.20,140.87 L604.70,143.18 L606.20,145.75 L607.70,148.57 L609.20,151.67 L610.70,155.05 L612.20,158.70 L613.70,162.65 L615.20,166.88 L616.70,171.38 L618.20,176.16 L619.70,181.20 L621.20,186.48 L622.70,192.00 L624.20,197.73 L625.70,203.67 L627.20,209.79 L628.70,216.08 L630.20,222.52 L631.70,229.09 L633.20,235.79 L634.70,242.60 L636.20,249.50 L637.70,256.49 L639.20,263.56 L640.70,270.69 L642.20,277.88 L643.70,285.12" stroke="#8fd25d" stroke-width="1.6" stroke-dasharray="3.9 0.85 1.95 0.85"/>
<path d="M453.20,142.88 L454.70,142.88 L456.20,142.88 L457.70,142.88 L459.20,142.88 L460.70,142.88 L462.20,142.88 L463.70,142.88 L465.20,142.88 L466.70,142.88 L468.20,142.88 L469.70,142.88 L471.20,142.88 L472.70,142.88 L474.20,142.88 L475.70,142.88 L477.20,142.88 L478.70,142.88 L480.20,142.88 L481.70,142.88 L483.20,142.88 L484.70,142.88 L486.20,142.88 L487.70,142.88 L489.20,142.88 L490.70,142.88 L492.20,142.88 L493.70,142.88 L495.20,142.88 L496.70,142.88 L498.20,142.88 L499.70,142.88 L501.20,142.88 L502.70,142.88 L504.20,142.88 L505.70,142.88 L507.20,142.88 L508.70,142.88 L510.20,142.88 L511.70,142.88 L513.20,142.88 L514.70,142.88 L516.20,142.88 L517.70,142.88 L519.20,142.88 L520.70,142.88 L522.20,142.88 L523.70,142.88 L525.20,142.88 L526.70,142.88 L528.20,142.88 L529.70,142.88 L531.20,142.88 L532.70,142.88 L534.20,142.88 L535.70,142.88 L537.20,142.89 L538.70,142.89 L540.20,142.89 L541.70,142.89 L543.20,142.89 L544.70,142.89 L546.20,142.89 L547.70,142.90 L549.20,142.90 L550.70,142.90 L552.20,142.91 L553.70,142.91 L555.20,142.91 L556.70,142.92 L558.20,142.93 L559.70,142.93 L561.20,142.94 L562.70,142.95 L564.20,142.96 L565.70,142.98 L567.20,142.99 L568.70,143.01 L570.20,143.04 L571.70,143.06 L573.20,143.09 L574.70,143.12 L576.20,143.16 L577.70,143.21 L579.20,143.26 L580.70,143.33 L582.20,143.40 L583.70,143.48 L585.20,143.58 L586.70,143.69 L588.20,143.82 L589.70,143.97 L591.20,144.15 L592.70,144.35 L594.20,144.59 L595.70,144.86 L597.20,145.18 L598.70,145.54 L600.20,145.97 L601.70,146.45 L603.20,147.01 L604.70,147.65 L606.20,148.39 L607.70,149.23 L609.20,150.19 L610.70,151.29 L612.20,152.53 L613.70,153.94 L615.20,155.54 L616.70,157.33 L618.20,159.33 L619.70,161.57 L621.20,164.04 L622.70,166.78 L624.20,169.79 L625.70,173.07 L627.20,176.63 L628.70,180.48 L630.20,184.62 L631.70,189.03 L633.20,193.72 L634.70,198.67 L636.20,203.87 L637.70,209.32 L639.20,214.98 L640.70,220.85 L642.20,226.91 L643.70,233.14 L645.20,239.53 L646.70,246.07 L648.20,252.73 L649.70,259.50 L651.20,266.37 L652.70,273.33 L654.20,280.38 L655.70,287.49" stroke="#5ec36e" stroke-width="1.6" stroke-dasharray="3.9 0.85 1.95 0.85"/>
<path d="M453.20,162.06 L454.70,162.06 L456.20,162.06 L457.70,162.06 L459.20,162.06 L460.70,162.06 L462.20,162.06 L463.70,162.06 L465.20,162.06 L466.70,162.06 L468.20,162.06 L469.70,162.06 L471.20,162.06 L472.70,162.06 L474.20,162.06 L475.70,162.06 L477.20,162.06 L478.70,162.06 L480.20,162.06 L481.70,162.06 L483.20,162.06 L484.70,162.06 L486.20,162.06 L487.70,162.06 L489.20,162.06 L490.70,162.06 L492.20,162.06 L493.70,162.06 L495.20,162.06 L496.70,162.06 L498.20,162.06 L499.70,162.06 L501.20,162.06 L502.70,162.06 L504.20,162.06 L505.70,162.06 L507.20,162.06 L508.70,162.06 L510.20,162.06 L511.70,162.06 L513.20,162.06 L514.70,162.06 L516.20,162.06 L517.70,162.06 L519.20,162.06 L520.70,162.06 L522.20,162.06 L523.70,162.06 L525.20,162.06 L526.70,162.06 L528.20,162.06 L529.70,162.06 L531.20,162.06 L532.70,162.06 L534.20,162.06 L535.70,162.06 L537.20,162.06 L538.70,162.06 L540.20,162.06 L541.70,162.06 L543.20,162.06 L544.70,162.06 L546.20,162.06 L547.70,162.06 L549.20,162.06 L550.70,162.06 L552.20,162.07 L553.70,162.07 L555.20,162.07 L556.70,162.07 L558.20,162.07 L559.70,162.07 L561.20,162.07 L562.70,162.08 L564.20,162.08 L565.70,162.08 L567.20,162.08 L568.70,162.09 L570.20,162.09 L571.70,162.10 L573.20,162.10 L574.70,162.11 L576.20,162.12 L577.70,162.13 L579.20,162.14 L580.70,162.15 L582.20,162.17 L583.70,162.19 L585.20,162.21 L586.70,162.23 L588.20,162.26 L589.70,162.29 L591.20,162.33 L592.70,162.37 L594.20,162.42 L595.70,162.48 L597.20,162.55 L598.70,162.63 L600.20,162.72 L601.70,162.83 L603.20,162.96 L604.70,163.10 L606.20,163.27 L607.70,163.46 L609.20,163.69 L610.70,163.95 L612.20,164.25 L613.70,164.60 L615.20,165.00 L616.70,165.46 L618.20,165.99 L619.70,166.61 L621.20,167.31 L622.70,168.12 L624.20,169.04 L625.70,170.09 L627.20,171.28 L628.70,172.63 L630.20,174.16 L631.70,175.89 L633.20,177.82 L634.70,179.97 L636.20,182.37 L637.70,185.02 L639.20,187.93 L640.70,191.12 L642.20,194.59 L643.70,198.35 L645.20,202.39 L646.70,206.71 L648.20,211.31 L649.70,216.17 L651.20,221.29 L652.70,226.66 L654.20,232.25 L655.70,238.05 L657.20,244.05 L658.70,250.23 L660.20,256.57 L661.70,263.05 L663.20,269.67 L664.70,276.41 L666.20,283.25" stroke="#3bb080" stroke-width="1.6" stroke-dasharray="3.9 0.85 1.95 0.85"/>
<path d="M453.20,181.24 L454.70,181.24 L456.20,181.24 L457.70,181.24 L459.20,181.24 L460.70,181.24 L462.20,181.24 L463.70,181.24 L465.20,181.24 L466.70,181.24 L468.20,181.24 L469.70,181.24 L471.20,181.24 L472.70,181.24 L474.20,181.24 L475.70,181.24 L477.20,181.24 L478.70,181.24 L480.20,181.24 L481.70,181.24 L483.20,181.24 L484.70,181.24 L486.20,181.24 L487.70,181.24 L489.20,181.24 L490.70,181.24 L492.20,181.24 L493.70,181.24 L495.20,181.24 L496.70,181.24 L498.20,181.24 L499.70,181.24 L501.20,181.24 L502.70,181.24 L504.20,181.24 L505.70,181.24 L507.20,181.24 L508.70,181.24 L510.20,181.24 L511.70,181.24 L513.20,181.24 L514.70,181.24 L516.20,181.24 L517.70,181.24 L519.20,181.24 L520.70,181.24 L522.20,181.24 L523.70,181.24 L525.20,181.24 L526.70,181.24 L528.20,181.24 L529.70,181.24 L531.20,181.24 L532.70,181.24 L534.20,181.24 L535.70,181.24 L537.20,181.24 L538.70,181.24 L540.20,181.24 L541.70,181.24 L543.20,181.24 L544.70,181.24 L546.20,181.24 L547.70,181.24 L549.20,181.24 L550.70,181.24 L552.20,181.24 L553.70,181.24 L555.20,181.24 L556.70,181.24 L558.20,181.24 L559.70,181.24 L561.20,181.24 L562.70,181.24 L564.20,181.24 L565.70,181.24 L567.20,181.25 L568.70,181.25 L570.20,181.25 L571.70,181.25 L573.20,181.25 L574.70,181.25 L576.20,181.25 L577.70,181.25 L579.20,181.26 L580.70,181.26 L582.20,181.26 L583.70,181.27 L585.20,181.27 L586.70,181.28 L588.20,181.28 L589.70,181.29 L591.20,181.30 L592.70,181.31 L594.20,181.32 L595.70,181.33 L597.20,181.34 L598.70,181.36 L600.20,181.38 L601.70,181.40 L603.20,181.43 L604.70,181.46 L606.20,181.50 L607.70,181.54 L609.20,181.59 L610.70,181.64 L612.20,181.71 L613.70,181.78 L615.20,181.87 L616.70,181.97 L618.20,182.09 L619.70,182.23 L621.20,182.39 L622.70,182.57 L624.20,182.79 L625.70,183.04 L627.20,183.32 L628.70,183.66 L630.20,184.04 L631.70,184.48 L633.20,184.99 L634.70,185.57 L636.20,186.24 L637.70,187.01 L639.20,187.90 L640.70,188.90 L642.20,190.05 L643.70,191.34 L645.20,192.81 L646.70,194.47 L648.20,196.33 L649.70,198.41 L651.20,200.72 L652.70,203.29 L654.20,206.11 L655.70,209.21 L657.20,212.59 L658.70,216.24 L660.20,220.19 L661.70,224.42 L663.20,228.92 L664.70,233.70 L666.20,238.74 L667.70,244.02 L669.20,249.54 L670.70,255.27 L672.20,261.21 L673.70,267.33 L675.20,273.62 L676.70,280.06 L678.20,286.63" stroke="#2a9b8c" stroke-width="1.6" stroke-dasharray="3.9 0.85 1.95 0.85"/>
<path d="M453.20,200.42 L454.70,200.42 L456.20,200.42 L457.70,200.42 L459.20,200.42 L460.70,200.42 L462.20,200.42 L463.70,200.42 L465.20,200.42 L466.70,200.42 L468.20,200.42 L469.70,200.42 L471.20,200.42 L472.70,200.42 L474.20,200.42 L475.70,200.42 L477.20,200.42 L478.70,200.42 L480.20,200.42 L481.70,200.42 L483.20,200.42 L484.70,200.42 L486.20,200.42 L487.70,200.42 L489.20,200.42 L490.70,200.42 L492.20,200.42 L493.70,200.42 L495.20,200.42 L496.70,200.42 L498.20,200.42 L499.70,200.42 L501.20,200.42 L502.70,200.42 L504.20,200.42 L505.70,200.42 L507.20,200.42 L508.70,200.42 L510.20,200.42 L511.70,200.42 L513.20,200.42 L514.70,200.42 L516.20,200.42 L517.70,200.42 L519.20,200.42 L520.70,200.42 L522.20,200.42 L523.70,200.42 L525.20,200.42 L526.70,200.42 L528.20,200.42 L529.70,200.42 L531.20,200.42 L532.70,200.42 L534.20,200.42 L535.70,200.42 L537.20,200.42 L538.70,200.42 L540.20,200.42 L541.70,200.42 L543.20,200.42 L544.70,200.42 L546.20,200.42 L547.70,200.42 L549.20,200.42 L550.70,200.42 L552.20,200.42 L553.70,200.42 L555.20,200.42 L556.70,200.42 L558.20,200.42 L559.70,200.42 L561.20,200.42 L562.70,200.42 L564.20,200.42 L565.70,200.42 L567.20,200.42 L568.70,200.42 L570.20,200.42 L571.70,200.42 L573.20,200.42 L574.70,200.42 L576.20,200.42 L577.70,200.42 L579.20,200.42 L580.70,200.42 L582.20,200.42 L583.70,200.43 L585.20,200.43 L586.70,200.43 L588.20,200.43 L589.70,200.43 L591.20,200.43 L592.70,200.43 L594.20,200.44 L595.70,200.44 L597.20,200.44 L598.70,200.45 L600.20,200.45 L601.70,200.45 L603.20,200.46 L604.70,200.47 L606.20,200.47 L607.70,200.48 L609.20,200.49 L610.70,200.50 L612.20,200.52 L613.70,200.53 L615.20,200.55 L616.70,200.58 L618.20,200.60 L619.70,200.63 L621.20,200.66 L622.70,200.70 L624.20,200.75 L625.70,200.80 L627.20,200.87 L628.70,200.94 L630.20,201.02 L631.70,201.12 L633.20,201.23 L634.70,201.36 L636.20,201.51 L637.70,201.69 L639.20,201.89 L640.70,202.13 L642.20,202.40 L643.70,202.72 L645.20,203.08 L646.70,203.51 L648.20,203.99 L649.70,204.55 L651.20,205.19 L652.70,205.93 L654.20,206.77 L655.70,207.73 L657.20,208.83 L658.70,210.07 L660.20,211.48 L661.70,213.08 L663.20,214.87 L664.70,216.87 L666.20,219.11 L667.70,221.58 L669.20,224.32 L670.70,227.33 L672.20,230.61 L673.70,234.17 L675.20,238.02 L676.70,242.16 L678.20,246.57 L679.70,251.26 L681.20,256.21 L682.70,261.41 L684.20,266.86 L685.70,272.52 L687.20,278.39 L688.70,284.45" stroke="#1f718b" stroke-width="1.6" stroke-dasharray="3.9 0.85 1.95 0.85"/>
<path d="M453.20,219.60 L454.70,219.60 L456.20,219.60 L457.70,219.60 L459.20,219.60 L460.70,219.60 L462.20,219.60 L463.70,219.60 L465.20,219.60 L466.70,219.60 L468.20,219.60 L469.70,219.60 L471.20,219.60 L472.70,219.60 L474.20,219.60 L475.70,219.60 L477.20,219.60 L478.70,219.60 L480.20,219.60 L481.70,219.60 L483.20,219.60 L484.70,219.60 L486.20,219.60 L487.70,219.60 L489.20,219.60 L490.70,219.60 L492.20,219.60 L493.70,219.60 L495.20,219.60 L496.70,219.60 L498.20,219.60 L499.70,219.60 L501.20,219.60 L502.70,219.60 L504.20,219.60 L505.70,219.60 L507.20,219.60 L508.70,219.60 L510.20,219.60 L511.70,219.60 L513.20,219.60 L514.70,219.60 L516.20,219.60 L517.70,219.60 L519.20,219.60 L520.70,219.60 L522.20,219.60 L523.70,219.60 L525.20,219.60 L526.70,219.60 L528.20,219.60 L529.70,219.60 L531.20,219.60 L532.70,219.60 L534.20,219.60 L535.70,219.60 L537.20,219.60 L538.70,219.60 L540.20,219.60 L541.70,219.60 L543.20,219.60 L544.70,219.60 L546.20,219.60 L547.70,219.60 L549.20,219.60 L550.70,219.60 L552.20,219.60 L553.70,219.60 L555.20,219.60 L556.70,219.60 L558.20,219.60 L559.70,219.60 L561.20,219.60 L562.70,219.60 L564.20,219.60 L565.70,219.60 L567.20,219.60 L568.70,219.60 L570.20,219.60 L571.70,219.60 L573.20,219.60 L574.70,219.60 L576.20,219.60 L577.70,219.60 L579.20,219.60 L580.70,219.60 L582.20,219.60 L583.70,219.60 L585.20,219.60 L586.70,219.60 L588.20,219.60 L589.70,219.60 L591.20,219.60 L592.70,219.60 L594.20,219.60 L595.70,219.60 L597.20,219.60 L598.70,219.61 L600.20,219.61 L601.70,219.61 L603.20,219.61 L604.70,219.61 L606.20,219.61 L607.70,219.61 L609.20,219.62 L610.70,219.62 L612.20,219.62 L613.70,219.62 L615.20,219.63 L616.70,219.63 L618.20,219.64 L619.70,219.64 L621.20,219.65 L622.70,219.66 L624.20,219.67 L625.70,219.68 L627.20,219.69 L628.70,219.71 L630.20,219.73 L631.70,219.75 L633.20,219.77 L634.70,219.80 L636.20,219.83 L637.70,219.87 L639.20,219.91 L640.70,219.96 L642.20,220.02 L643.70,220.09 L645.20,220.17 L646.70,220.26 L648.20,220.37 L649.70,220.50 L651.20,220.64 L652.70,220.81 L654.20,221.00 L655.70,221.23 L657.20,221.49 L658.70,221.79 L660.20,222.14 L661.70,222.54 L663.20,223.00 L664.70,223.53 L666.20,224.15 L667.70,224.85 L669.20,225.66 L670.70,226.58 L672.20,227.63 L673.70,228.82 L675.20,230.17 L676.70,231.70 L678.20,233.43 L679.70,235.36 L681.20,237.51 L682.70,239.91 L684.20,242.56 L685.70,245.47 L687.20,248.66 L688.70,252.13 L690.20,255.89 L691.70,259.93 L693.20,264.25 L694.70,268.85 L696.20,273.71 L697.70,278.83 L699.20,284.20" stroke="#1b3d85" stroke-width="1.6" stroke-dasharray="3.9 0.85 1.95 0.85"/>
</g>
<rect x="454.40" y="16.45" width="320.40" height="256.90" fill="none" stroke="#7d7d7d" stroke-width="0.7"/>
<path d="M454.40,273.35 v-3.40 M454.40,16.45 v3.40 M500.16,273.35 v-1.70 M500.16,16.45 v1.70 M545.92,273.35 v-3.40 M545.92,16.45 v3.40 M591.68,273.35 v-1.70 M591.68,16.45 v1.70 M637.44,273.35 v-3.40 M637.44,16.45 v3.40 M683.20,273.35 v-1.70 M683.20,16.45 v1.70 M728.96,273.35 v-3.40 M728.96,16.45 v3.40 M774.72,273.35 v-1.70 M774.72,16.45 v1.70 M454.40,16.77 h3.20 M774.80,16.77 h-3.20 M454.40,31.19 h1.70 M774.80,31.19 h-1.70 M454.40,45.61 h1.70 M774.80,45.61 h-1.70 M454.40,60.03 h1.70 M774.80,60.03 h-1.70 M454.40,74.45 h3.20 M774.80,74.45 h-3.20 M454.40,88.87 h1.70 M774.80,88.87 h-1.70 M454.40,103.29 h1.70 M774.80,103.29 h-1.70 M454.40,117.71 h1.70 M774.80,117.71 h-1.70 M454.40,132.13 h3.20 M774.80,132.13 h-3.20 M454.40,146.55 h1.70 M774.80,146.55 h-1.70 M454.40,160.97 h1.70 M774.80,160.97 h-1.70 M454.40,175.39 h1.70 M774.80,175.39 h-1.70 M454.40,189.81 h3.20 M774.80,189.81 h-3.20 M454.40,204.23 h1.70 M774.80,204.23 h-1.70 M454.40,218.65 h1.70 M774.80,218.65 h-1.70 M454.40,233.07 h1.70 M774.80,233.07 h-1.70 M454.40,247.49 h3.20 M774.80,247.49 h-3.20 M454.40,261.91 h1.70 M774.80,261.91 h-1.70" stroke="#a8a8a8" stroke-width="0.5" fill="none"/>
<text x="454.50" y="286.00" text-anchor="middle" class="tl">10<tspan dy="-4.5" font-size="8.2">−5</tspan></text>
<text x="545.92" y="286.00" text-anchor="middle" class="tl">0.001</text>
<text x="637.44" y="286.00" text-anchor="middle" class="tl">0.100</text>
<text x="729.26" y="286.00" text-anchor="middle" class="tl">10</text>
<text x="452.10" y="20.97" text-anchor="end" class="tl">10<tspan dy="-4.5" font-size="8.2">12</tspan></text>
<text x="452.10" y="78.65" text-anchor="end" class="tl">10<tspan dy="-4.5" font-size="8.2">8</tspan></text>
<text x="452.10" y="136.33" text-anchor="end" class="tl">10<tspan dy="-4.5" font-size="8.2">4</tspan></text>
<text x="452.10" y="251.69" text-anchor="end" class="tl">10<tspan dy="-4.5" font-size="8.2">−4</tspan></text>
<text x="450.80" y="194.01" text-anchor="end" class="tl">1</text>
<text x="614.10" y="304.9" text-anchor="middle" class="ax"><tspan font-style="italic">r</tspan> (kpc)</text>
<text x="692.45" y="37.9" class="ml">m = 10<tspan dy="-5.0" font-size="7.4">−21</tspan><tspan dy="5.0"> eV</tspan></text>
<rect x="470.85" y="37.80" width="27.10" height="12.80" fill="#e6de4a"/>
<text x="470.55" y="50.20" class="bl">10<tspan dy="-5.8" font-size="9.3">14</tspan></text>
<rect x="470.85" y="94.10" width="27.10" height="13.30" fill="#8fd25d"/>
<text x="470.55" y="107.00" class="bl">10<tspan dy="-5.8" font-size="9.3">13</tspan></text>
<rect x="470.85" y="131.50" width="27.10" height="13.20" fill="#5ec36e"/>
<text x="470.55" y="144.30" class="bl">10<tspan dy="-5.8" font-size="9.3">12</tspan></text>
<rect x="470.85" y="156.90" width="27.10" height="12.90" fill="#3bb080"/>
<text x="470.55" y="169.40" class="bl">10<tspan dy="-5.8" font-size="9.3">11</tspan></text>
<rect x="470.85" y="175.60" width="27.10" height="13.20" fill="#2a9b8c"/>
<text x="470.55" y="188.40" class="bl">10<tspan dy="-5.8" font-size="9.3">10</tspan></text>
<rect x="473.85" y="193.50" width="21.00" height="17.10" fill="#1f718b"/>
<text x="473.75" y="207.70" class="bl" fill="#fff">10<tspan dy="-5.8" font-size="9.3">9</tspan></text>
<rect x="473.85" y="212.10" width="21.00" height="17.60" fill="#1b3d85"/>
<text x="473.75" y="226.80" class="bl" fill="#fff">10<tspan dy="-5.8" font-size="9.3">8</tspan></text>
<text transform="translate(31.2,178.5) rotate(-90)" class="ax"><tspan font-style="italic">ρ</tspan> (<tspan font-style="italic" dx="1.8">M</tspan><tspan dy="2.4" dx="-1.4" font-size="12.5">⊙</tspan><tspan dy="-2.4" dx="0.2">pc</tspan><tspan dy="-5.2" dx="0.3" font-size="10">−3</tspan><tspan dy="5.2" dx="0.5">)</tspan></text>
</svg>
</body></html>
